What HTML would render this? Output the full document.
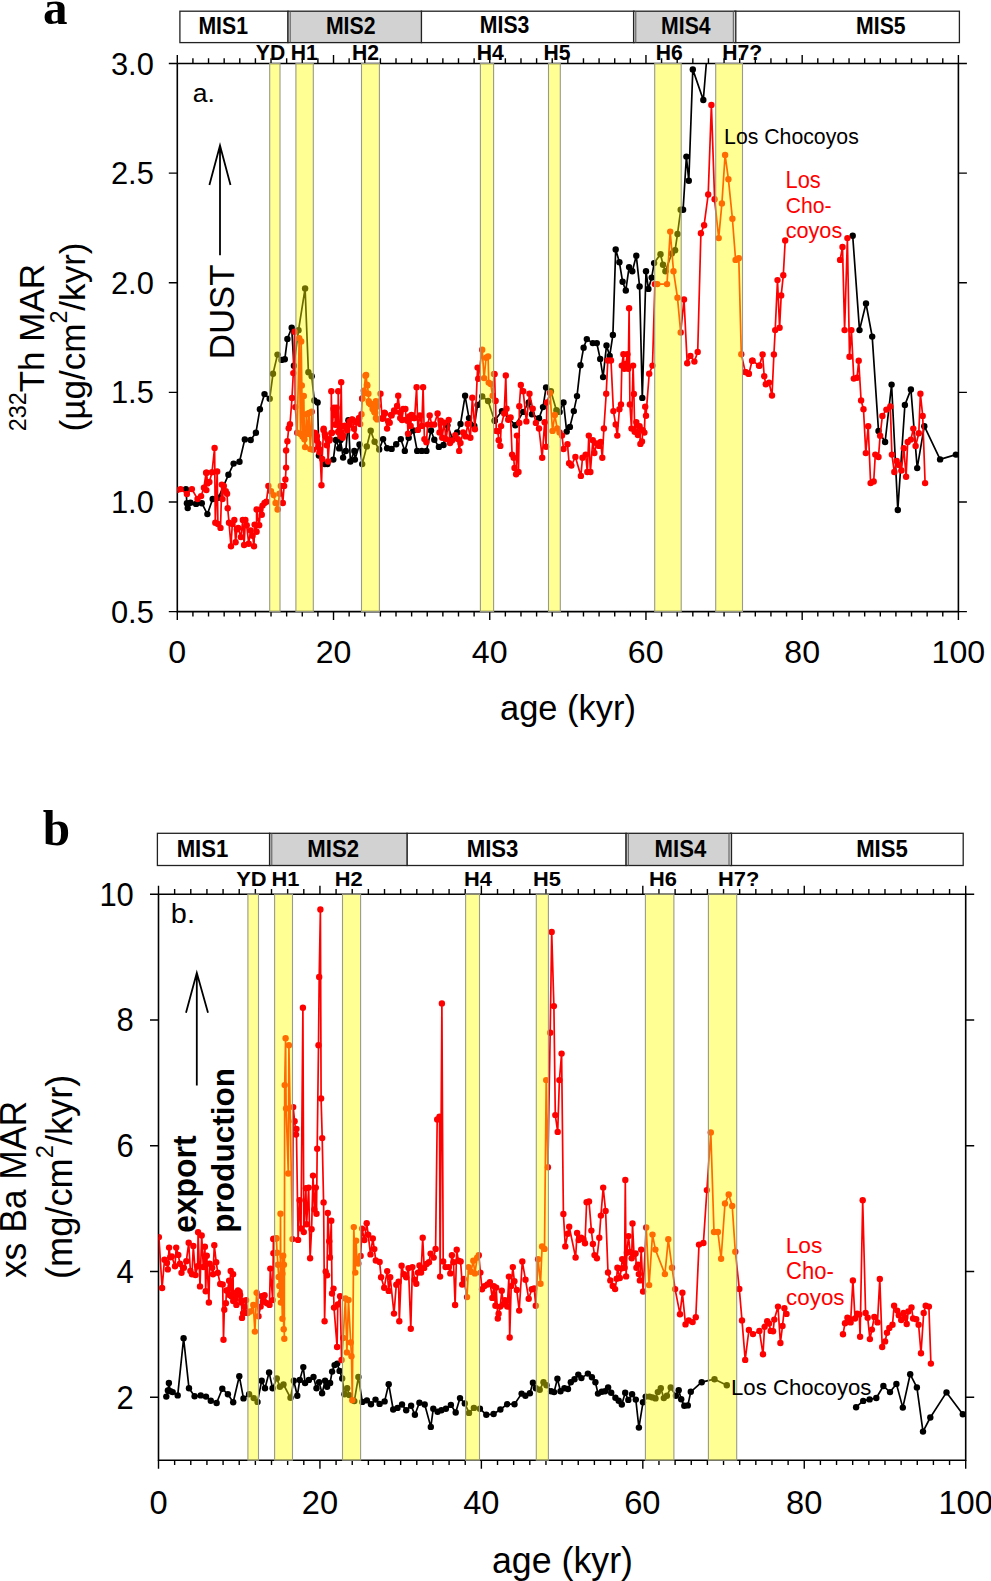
<!DOCTYPE html>
<html><head><meta charset="utf-8"><style>
html,body{margin:0;padding:0;background:#fff;}
body{width:991px;height:1581px;overflow:hidden;}
svg{display:block;}
text{font-family:"Liberation Sans",sans-serif;}
.serif{font-family:"Liberation Serif",serif;}
</style></head><body>
<svg width="991" height="1581" viewBox="0 0 991 1581">
<rect width="991" height="1581" fill="#fff"/>
<rect x="179.9" y="11.2" width="108.1" height="31.400000000000002" fill="#fff" stroke="#222" stroke-width="1.3"/>
<rect x="421.4" y="11.2" width="212.60000000000002" height="31.400000000000002" fill="#fff" stroke="#222" stroke-width="1.3"/>
<rect x="734.8" y="11.2" width="224.60000000000002" height="31.400000000000002" fill="#fff" stroke="#222" stroke-width="1.3"/>
<rect x="288" y="11.2" width="133.39999999999998" height="31.400000000000002" fill="#d2d2d2" stroke="#222" stroke-width="1.3"/>
<path d="M290.2,11.2V42.6" stroke="#555" stroke-width="1"/>
<rect x="633.6" y="11.2" width="102.19999999999993" height="31.400000000000002" fill="#d2d2d2" stroke="#222" stroke-width="1.3"/>
<path d="M635.8000000000001,11.2V42.6M733.3,11.2V42.6" stroke="#555" stroke-width="1"/>
<rect x="157.4" y="833.3" width="112.20000000000002" height="32.200000000000045" fill="#fff" stroke="#222" stroke-width="1.3"/>
<rect x="407" y="833.3" width="219.10000000000002" height="32.200000000000045" fill="#fff" stroke="#222" stroke-width="1.3"/>
<rect x="730.5" y="833.3" width="232.70000000000005" height="32.200000000000045" fill="#fff" stroke="#222" stroke-width="1.3"/>
<rect x="269.6" y="833.3" width="137.39999999999998" height="32.200000000000045" fill="#d2d2d2" stroke="#222" stroke-width="1.3"/>
<path d="M271.8,833.3V865.5" stroke="#555" stroke-width="1"/>
<rect x="626.1" y="833.3" width="105.39999999999998" height="32.200000000000045" fill="#d2d2d2" stroke="#222" stroke-width="1.3"/>
<path d="M628.3000000000001,833.3V865.5M729.0,833.3V865.5" stroke="#555" stroke-width="1"/>
<path d="M177.3,63.5V611.6H958.4V63.5H177.3" fill="none" stroke="#000" stroke-width="1.6"/>
<path d="M177.30,63.5v-8.5M177.30,611.6v8.5M192.92,63.5v-5.2M192.92,611.6v4.8M208.54,63.5v-5.2M208.54,611.6v4.8M224.17,63.5v-5.2M224.17,611.6v4.8M239.79,63.5v-5.2M239.79,611.6v4.8M255.41,63.5v-5.2M255.41,611.6v4.8M271.03,63.5v-5.2M271.03,611.6v4.8M286.65,63.5v-5.2M286.65,611.6v4.8M302.28,63.5v-5.2M302.28,611.6v4.8M317.90,63.5v-5.2M317.90,611.6v4.8M333.52,63.5v-8.5M333.52,611.6v8.5M349.14,63.5v-5.2M349.14,611.6v4.8M364.76,63.5v-5.2M364.76,611.6v4.8M380.39,63.5v-5.2M380.39,611.6v4.8M396.01,63.5v-5.2M396.01,611.6v4.8M411.63,63.5v-5.2M411.63,611.6v4.8M427.25,63.5v-5.2M427.25,611.6v4.8M442.87,63.5v-5.2M442.87,611.6v4.8M458.50,63.5v-5.2M458.50,611.6v4.8M474.12,63.5v-5.2M474.12,611.6v4.8M489.74,63.5v-8.5M489.74,611.6v8.5M505.36,63.5v-5.2M505.36,611.6v4.8M520.98,63.5v-5.2M520.98,611.6v4.8M536.61,63.5v-5.2M536.61,611.6v4.8M552.23,63.5v-5.2M552.23,611.6v4.8M567.85,63.5v-5.2M567.85,611.6v4.8M583.47,63.5v-5.2M583.47,611.6v4.8M599.09,63.5v-5.2M599.09,611.6v4.8M614.72,63.5v-5.2M614.72,611.6v4.8M630.34,63.5v-5.2M630.34,611.6v4.8M645.96,63.5v-8.5M645.96,611.6v8.5M661.58,63.5v-5.2M661.58,611.6v4.8M677.20,63.5v-5.2M677.20,611.6v4.8M692.83,63.5v-5.2M692.83,611.6v4.8M708.45,63.5v-5.2M708.45,611.6v4.8M724.07,63.5v-5.2M724.07,611.6v4.8M739.69,63.5v-5.2M739.69,611.6v4.8M755.31,63.5v-5.2M755.31,611.6v4.8M770.94,63.5v-5.2M770.94,611.6v4.8M786.56,63.5v-5.2M786.56,611.6v4.8M802.18,63.5v-8.5M802.18,611.6v8.5M817.80,63.5v-5.2M817.80,611.6v4.8M833.42,63.5v-5.2M833.42,611.6v4.8M849.05,63.5v-5.2M849.05,611.6v4.8M864.67,63.5v-5.2M864.67,611.6v4.8M880.29,63.5v-5.2M880.29,611.6v4.8M895.91,63.5v-5.2M895.91,611.6v4.8M911.53,63.5v-5.2M911.53,611.6v4.8M927.16,63.5v-5.2M927.16,611.6v4.8M942.78,63.5v-5.2M942.78,611.6v4.8M958.40,63.5v-8.5M958.40,611.6v8.5M177.3,611.60h-8.5M958.4,611.60h8.5M177.3,501.98h-8.5M958.4,501.98h8.5M177.3,392.36h-8.5M958.4,392.36h8.5M177.3,282.74h-8.5M958.4,282.74h8.5M177.3,173.12h-8.5M958.4,173.12h8.5M177.3,63.50h-8.5M958.4,63.50h8.5" fill="none" stroke="#000" stroke-width="1.4"/>
<path d="M158.5,894.2V1460.2H965.7V894.2H158.5" fill="none" stroke="#000" stroke-width="1.6"/>
<path d="M158.50,894.2v-8.5M158.50,1460.2v8.5M174.64,894.2v-5.2M174.64,1460.2v4.8M190.79,894.2v-5.2M190.79,1460.2v4.8M206.93,894.2v-5.2M206.93,1460.2v4.8M223.08,894.2v-5.2M223.08,1460.2v4.8M239.22,894.2v-5.2M239.22,1460.2v4.8M255.36,894.2v-5.2M255.36,1460.2v4.8M271.51,894.2v-5.2M271.51,1460.2v4.8M287.65,894.2v-5.2M287.65,1460.2v4.8M303.80,894.2v-5.2M303.80,1460.2v4.8M319.94,894.2v-8.5M319.94,1460.2v8.5M336.08,894.2v-5.2M336.08,1460.2v4.8M352.23,894.2v-5.2M352.23,1460.2v4.8M368.37,894.2v-5.2M368.37,1460.2v4.8M384.52,894.2v-5.2M384.52,1460.2v4.8M400.66,894.2v-5.2M400.66,1460.2v4.8M416.80,894.2v-5.2M416.80,1460.2v4.8M432.95,894.2v-5.2M432.95,1460.2v4.8M449.09,894.2v-5.2M449.09,1460.2v4.8M465.24,894.2v-5.2M465.24,1460.2v4.8M481.38,894.2v-8.5M481.38,1460.2v8.5M497.52,894.2v-5.2M497.52,1460.2v4.8M513.67,894.2v-5.2M513.67,1460.2v4.8M529.81,894.2v-5.2M529.81,1460.2v4.8M545.96,894.2v-5.2M545.96,1460.2v4.8M562.10,894.2v-5.2M562.10,1460.2v4.8M578.24,894.2v-5.2M578.24,1460.2v4.8M594.39,894.2v-5.2M594.39,1460.2v4.8M610.53,894.2v-5.2M610.53,1460.2v4.8M626.68,894.2v-5.2M626.68,1460.2v4.8M642.82,894.2v-8.5M642.82,1460.2v8.5M658.96,894.2v-5.2M658.96,1460.2v4.8M675.11,894.2v-5.2M675.11,1460.2v4.8M691.25,894.2v-5.2M691.25,1460.2v4.8M707.40,894.2v-5.2M707.40,1460.2v4.8M723.54,894.2v-5.2M723.54,1460.2v4.8M739.68,894.2v-5.2M739.68,1460.2v4.8M755.83,894.2v-5.2M755.83,1460.2v4.8M771.97,894.2v-5.2M771.97,1460.2v4.8M788.12,894.2v-5.2M788.12,1460.2v4.8M804.26,894.2v-8.5M804.26,1460.2v8.5M820.40,894.2v-5.2M820.40,1460.2v4.8M836.55,894.2v-5.2M836.55,1460.2v4.8M852.69,894.2v-5.2M852.69,1460.2v4.8M868.84,894.2v-5.2M868.84,1460.2v4.8M884.98,894.2v-5.2M884.98,1460.2v4.8M901.12,894.2v-5.2M901.12,1460.2v4.8M917.27,894.2v-5.2M917.27,1460.2v4.8M933.41,894.2v-5.2M933.41,1460.2v4.8M949.56,894.2v-5.2M949.56,1460.2v4.8M965.70,894.2v-8.5M965.70,1460.2v8.5M158.5,1397.31h-8.5M965.7,1397.31h8.5M158.5,1271.53h-8.5M965.7,1271.53h8.5M158.5,1145.76h-8.5M965.7,1145.76h8.5M158.5,1019.98h-8.5M965.7,1019.98h8.5M158.5,894.20h-8.5M965.7,894.20h8.5" fill="none" stroke="#000" stroke-width="1.4"/>
<path d="M220,255.2V145.5M209.4,185L220,145.5L230.5,185" fill="none" stroke="#000" stroke-width="1.8"/>
<path d="M196.8,1085.6V972.8M186,1012.8L196.8,972.8L208,1012.8" fill="none" stroke="#000" stroke-width="1.8"/>
<defs><clipPath id="ct"><rect x="177.3" y="63.5" width="781.0999999999999" height="548.1"/></clipPath><clipPath id="cb"><rect x="158.5" y="894.2" width="807.2" height="566.0"/></clipPath></defs>
<g clip-path="url(#ct)"><path d="M185.9,489.1L186.9,503.2L187.7,508.1L190.5,502.8L196.1,503.9L201.8,503.2L207.4,514.1L212.7,499.0L218.5,497.7L228.4,474.8L233.6,463.6L239.5,461.7L244.8,439.4L250.7,440.0L255.9,432.8L259.9,409.2L264.5,394.1L269.7,398.7L273.0,373.8L277.5,354.6L281.5,359.9L284.8,359.2L287.4,338.9L291.7,327.7L293.9,365.8L298.5,330.3L305.1,288.4L308.4,372.3L311.7,376.3L314.3,400.5L317.6,402.5L318.9,455.6L324.8,464.1L327.4,464.1L333.3,459.6L335.9,439.9L339.2,448.4L340.5,439.9L343.1,457.6L345.8,451.0L348.4,420.2L350.4,461.5L354.3,451.0L354.9,459.6L359.5,444.5L362.2,464.1L366.8,446.4L370.7,430.7L374.6,441.8L379.2,449.5L383.1,439.1L387.1,448.2L391.6,448.9L396.2,444.3L400.8,439.1L404.8,450.9L408.7,437.7L413.3,430.5L417.2,450.9L421.8,450.9L426.4,450.9L431.0,430.5L434.3,439.7L438.9,446.9L443.5,445.0L447.4,425.3L452.6,439.1L457.2,432.5L460.5,424.0L465.1,395.8L469.0,418.1L474.3,425.9L477.6,404.9L482.2,396.4L488.1,401.0L494.6,420.7L494.7,420.6L501.9,411.1L509.0,418.2L515.3,425.3L523.2,411.9L528.7,402.4L531.9,414.2L539.0,418.2L543.0,407.1L546.1,387.4L550.9,391.3L556.4,410.3L559.6,411.9L563.5,402.4L566.7,431.6L569.9,426.9L573.8,411.1L577.0,396.1L580.5,365.2L583.6,347.8L586.8,339.1L592.8,343.1L596.8,343.1L600.2,358.9L603.1,377.1L606.5,345.4L609.7,355.9L612.9,334.9L615.7,249.4L619.4,262.3L622.6,281.7L625.8,290.5L629.1,267.1L632.3,271.2L636.3,255.8L639.6,286.5L642.3,397.9L646.0,271.2L648.4,288.9L651.7,277.6L654.1,263.1L660.5,254.2L663.0,264.7L665.4,271.2L671.8,253.4L675.1,250.2L677.5,234.0L680.7,209.8L683.1,209.8L686.4,156.6L688.8,180.8L692.8,69.4L703.3,100.0L706.9,56.5" fill="none" stroke="#000" stroke-width="1.7" stroke-linejoin="round"/>
<g fill="#000"><circle cx="185.9" cy="489.1" r="3.2"/><circle cx="186.9" cy="503.2" r="3.2"/><circle cx="187.7" cy="508.1" r="3.2"/><circle cx="190.5" cy="502.8" r="3.2"/><circle cx="196.1" cy="503.9" r="3.2"/><circle cx="201.8" cy="503.2" r="3.2"/><circle cx="207.4" cy="514.1" r="3.2"/><circle cx="212.7" cy="499.0" r="3.2"/><circle cx="218.5" cy="497.7" r="3.2"/><circle cx="228.4" cy="474.8" r="3.2"/><circle cx="233.6" cy="463.6" r="3.2"/><circle cx="239.5" cy="461.7" r="3.2"/><circle cx="244.8" cy="439.4" r="3.2"/><circle cx="250.7" cy="440.0" r="3.2"/><circle cx="255.9" cy="432.8" r="3.2"/><circle cx="259.9" cy="409.2" r="3.2"/><circle cx="264.5" cy="394.1" r="3.2"/><circle cx="269.7" cy="398.7" r="3.2"/><circle cx="273.0" cy="373.8" r="3.2"/><circle cx="277.5" cy="354.6" r="3.2"/><circle cx="281.5" cy="359.9" r="3.2"/><circle cx="284.8" cy="359.2" r="3.2"/><circle cx="287.4" cy="338.9" r="3.2"/><circle cx="291.7" cy="327.7" r="3.2"/><circle cx="293.9" cy="365.8" r="3.2"/><circle cx="298.5" cy="330.3" r="3.2"/><circle cx="305.1" cy="288.4" r="3.2"/><circle cx="308.4" cy="372.3" r="3.2"/><circle cx="311.7" cy="376.3" r="3.2"/><circle cx="314.3" cy="400.5" r="3.2"/><circle cx="317.6" cy="402.5" r="3.2"/><circle cx="318.9" cy="455.6" r="3.2"/><circle cx="324.8" cy="464.1" r="3.2"/><circle cx="327.4" cy="464.1" r="3.2"/><circle cx="333.3" cy="459.6" r="3.2"/><circle cx="335.9" cy="439.9" r="3.2"/><circle cx="339.2" cy="448.4" r="3.2"/><circle cx="340.5" cy="439.9" r="3.2"/><circle cx="343.1" cy="457.6" r="3.2"/><circle cx="345.8" cy="451.0" r="3.2"/><circle cx="348.4" cy="420.2" r="3.2"/><circle cx="350.4" cy="461.5" r="3.2"/><circle cx="354.3" cy="451.0" r="3.2"/><circle cx="354.9" cy="459.6" r="3.2"/><circle cx="359.5" cy="444.5" r="3.2"/><circle cx="362.2" cy="464.1" r="3.2"/><circle cx="366.8" cy="446.4" r="3.2"/><circle cx="370.7" cy="430.7" r="3.2"/><circle cx="374.6" cy="441.8" r="3.2"/><circle cx="379.2" cy="449.5" r="3.2"/><circle cx="383.1" cy="439.1" r="3.2"/><circle cx="387.1" cy="448.2" r="3.2"/><circle cx="391.6" cy="448.9" r="3.2"/><circle cx="396.2" cy="444.3" r="3.2"/><circle cx="400.8" cy="439.1" r="3.2"/><circle cx="404.8" cy="450.9" r="3.2"/><circle cx="408.7" cy="437.7" r="3.2"/><circle cx="413.3" cy="430.5" r="3.2"/><circle cx="417.2" cy="450.9" r="3.2"/><circle cx="421.8" cy="450.9" r="3.2"/><circle cx="426.4" cy="450.9" r="3.2"/><circle cx="431.0" cy="430.5" r="3.2"/><circle cx="434.3" cy="439.7" r="3.2"/><circle cx="438.9" cy="446.9" r="3.2"/><circle cx="443.5" cy="445.0" r="3.2"/><circle cx="447.4" cy="425.3" r="3.2"/><circle cx="452.6" cy="439.1" r="3.2"/><circle cx="457.2" cy="432.5" r="3.2"/><circle cx="460.5" cy="424.0" r="3.2"/><circle cx="465.1" cy="395.8" r="3.2"/><circle cx="469.0" cy="418.1" r="3.2"/><circle cx="474.3" cy="425.9" r="3.2"/><circle cx="477.6" cy="404.9" r="3.2"/><circle cx="482.2" cy="396.4" r="3.2"/><circle cx="488.1" cy="401.0" r="3.2"/><circle cx="494.6" cy="420.7" r="3.2"/><circle cx="494.7" cy="420.6" r="3.2"/><circle cx="501.9" cy="411.1" r="3.2"/><circle cx="509.0" cy="418.2" r="3.2"/><circle cx="515.3" cy="425.3" r="3.2"/><circle cx="523.2" cy="411.9" r="3.2"/><circle cx="528.7" cy="402.4" r="3.2"/><circle cx="531.9" cy="414.2" r="3.2"/><circle cx="539.0" cy="418.2" r="3.2"/><circle cx="543.0" cy="407.1" r="3.2"/><circle cx="546.1" cy="387.4" r="3.2"/><circle cx="550.9" cy="391.3" r="3.2"/><circle cx="556.4" cy="410.3" r="3.2"/><circle cx="559.6" cy="411.9" r="3.2"/><circle cx="563.5" cy="402.4" r="3.2"/><circle cx="566.7" cy="431.6" r="3.2"/><circle cx="569.9" cy="426.9" r="3.2"/><circle cx="573.8" cy="411.1" r="3.2"/><circle cx="577.0" cy="396.1" r="3.2"/><circle cx="580.5" cy="365.2" r="3.2"/><circle cx="583.6" cy="347.8" r="3.2"/><circle cx="586.8" cy="339.1" r="3.2"/><circle cx="592.8" cy="343.1" r="3.2"/><circle cx="596.8" cy="343.1" r="3.2"/><circle cx="600.2" cy="358.9" r="3.2"/><circle cx="603.1" cy="377.1" r="3.2"/><circle cx="606.5" cy="345.4" r="3.2"/><circle cx="609.7" cy="355.9" r="3.2"/><circle cx="612.9" cy="334.9" r="3.2"/><circle cx="615.7" cy="249.4" r="3.2"/><circle cx="619.4" cy="262.3" r="3.2"/><circle cx="622.6" cy="281.7" r="3.2"/><circle cx="625.8" cy="290.5" r="3.2"/><circle cx="629.1" cy="267.1" r="3.2"/><circle cx="632.3" cy="271.2" r="3.2"/><circle cx="636.3" cy="255.8" r="3.2"/><circle cx="639.6" cy="286.5" r="3.2"/><circle cx="642.3" cy="397.9" r="3.2"/><circle cx="646.0" cy="271.2" r="3.2"/><circle cx="648.4" cy="288.9" r="3.2"/><circle cx="651.7" cy="277.6" r="3.2"/><circle cx="654.1" cy="263.1" r="3.2"/><circle cx="660.5" cy="254.2" r="3.2"/><circle cx="663.0" cy="264.7" r="3.2"/><circle cx="665.4" cy="271.2" r="3.2"/><circle cx="671.8" cy="253.4" r="3.2"/><circle cx="675.1" cy="250.2" r="3.2"/><circle cx="677.5" cy="234.0" r="3.2"/><circle cx="680.7" cy="209.8" r="3.2"/><circle cx="683.1" cy="209.8" r="3.2"/><circle cx="686.4" cy="156.6" r="3.2"/><circle cx="688.8" cy="180.8" r="3.2"/><circle cx="692.8" cy="69.4" r="3.2"/><circle cx="703.3" cy="100.0" r="3.2"/><circle cx="706.9" cy="56.5" r="3.2"/></g></g>
<g clip-path="url(#ct)"><path d="M852.7,235.7L859.5,330.1L866.0,303.5L872.2,336.6L878.5,430.9L885.1,442.0L891.6,384.6L897.8,510.0L904.9,404.9L910.9,389.4L917.2,468.1L924.3,426.2L940.1,459.4L955.9,454.6" fill="none" stroke="#000" stroke-width="1.7" stroke-linejoin="round"/>
<g fill="#000"><circle cx="852.7" cy="235.7" r="3.2"/><circle cx="859.5" cy="330.1" r="3.2"/><circle cx="866.0" cy="303.5" r="3.2"/><circle cx="872.2" cy="336.6" r="3.2"/><circle cx="878.5" cy="430.9" r="3.2"/><circle cx="885.1" cy="442.0" r="3.2"/><circle cx="891.6" cy="384.6" r="3.2"/><circle cx="897.8" cy="510.0" r="3.2"/><circle cx="904.9" cy="404.9" r="3.2"/><circle cx="910.9" cy="389.4" r="3.2"/><circle cx="917.2" cy="468.1" r="3.2"/><circle cx="924.3" cy="426.2" r="3.2"/><circle cx="940.1" cy="459.4" r="3.2"/><circle cx="955.9" cy="454.6" r="3.2"/></g></g>
<g clip-path="url(#ct)"><path d="M177.1,490.1L180.6,489.1L186.9,494.0L191.9,489.1L197.5,499.0L201.1,496.1L203.9,487.7L206.1,472.8L206.4,490.1L206.7,472.8L207.4,483.4L209.4,482.0L212.0,472.2L214.6,447.9L215.3,522.7L217.2,471.5L217.9,524.0L220.5,527.9L221.8,484.6L222.5,499.1L223.8,485.9L225.8,491.2L227.1,493.8L227.7,508.2L229.0,522.7L231.0,546.3L232.3,524.0L234.3,520.0L235.6,542.3L236.9,529.2L238.2,527.9L240.8,537.1L242.8,520.0L244.1,545.0L245.4,520.0L246.7,525.3L248.7,543.7L250.7,530.5L252.6,535.8L254.0,546.3L254.6,524.6L256.6,531.8L256.6,509.5L259.2,525.3L260.5,509.5L261.8,514.8L262.5,505.6L264.5,503.0L266.4,501.7L268.4,485.9L271.0,491.2L273.6,495.1L275.6,503.0L277.6,509.5L279.5,493.8L280.8,485.9L282.8,503.0L284.1,485.9L285.4,479.4L286.1,467.6L286.1,450.5L287.4,441.3L288.7,428.2L290.0,424.3L292.0,398.0L293.3,373.1L294.6,331.7L295.3,407.1L297.2,432.7L299.2,338.2L300.5,434.0L301.2,341.5L301.8,385.4L302.5,436.6L303.8,395.9L304.4,439.2L305.1,447.1L306.4,414.3L307.7,434.0L309.0,413.0L310.3,449.1L311.7,411.7L313.0,449.7L314.3,432.7L315.4,433.2L315.6,436.6L316.9,440.5L316.9,436.2L318.2,447.1L318.4,443.8L319.5,452.3L319.9,449.8L321.5,485.3L322.2,458.9L323.5,430.0L323.7,428.7L324.8,434.0L325.2,436.2L326.8,445.3L327.4,439.2L328.1,461.5L329.4,440.5L329.8,439.2L331.3,433.2L331.3,391.3L332.0,432.7L333.6,409.0L334.0,407.7L335.1,415.0L335.3,424.8L336.6,407.7L336.6,424.1L338.1,431.7L338.2,391.3L339.2,432.7L340.4,436.2L341.2,382.2L341.8,426.1L342.7,437.7L343.1,435.3L344.5,426.1L344.9,425.6L347.1,428.7L347.2,430.2L349.5,421.1L349.7,424.8L351.7,419.6L352.3,419.5L354.0,428.7L354.9,436.6L355.5,436.2L356.3,422.2L357.0,421.1L358.9,418.2L359.3,418.1L360.2,424.1L361.5,414.3L362.2,398.6L362.3,398.4L363.8,390.8L364.1,393.3L365.4,375.7L366.1,374.9L366.9,384.8L367.4,385.4L368.4,393.8L368.7,401.2L369.1,402.9L370.7,404.4L370.7,403.8L372.6,404.9L372.7,409.1L372.9,409.0L374.4,412.0L374.6,411.7L375.2,412.8L375.9,401.2L375.9,418.1L377.2,419.4L377.2,406.4L377.5,405.9L380.5,393.8L382.0,418.1L382.5,418.7L384.4,412.8L385.0,413.5L387.1,428.6L388.1,421.1L389.7,422.7L391.1,415.0L391.6,415.4L394.1,410.5L394.9,411.5L397.1,405.9L398.2,395.8L400.2,418.1L400.2,412.8L402.1,420.0L403.2,409.0L405.4,408.9L406.2,419.6L407.4,420.7L408.0,433.8L409.2,416.5L410.7,425.9L411.5,415.0L412.0,415.4L413.8,418.1L414.6,418.1L416.6,387.2L417.9,429.9L419.8,415.4L421.8,425.9L423.1,387.2L424.4,439.1L426.4,442.3L427.7,424.6L429.7,415.4L431.7,424.6L434.3,424.6L437.6,413.5L439.5,432.5L440.8,420.7L442.2,437.7L444.1,422.7L446.1,439.1L448.7,420.0L450.0,443.0L452.0,440.4L455.3,435.1L457.9,439.1L459.2,450.9L460.5,443.0L463.1,432.5L465.8,436.4L467.7,424.0L470.4,437.7L472.3,397.7L474.9,429.2L477.6,367.6L478.2,378.7L482.2,349.8L484.1,378.1L486.1,357.7L488.1,356.4L488.7,382.6L490.7,384.0L492.7,395.8L494.0,373.9L494.6,374.1L495.3,401.0L495.5,400.8L496.3,430.9L497.9,431.2L498.7,440.3L500.3,445.9L501.1,426.1L504.2,413.5L505.8,375.5L506.6,408.7L508.2,419.8L510.6,417.4L512.1,454.6L513.7,457.7L514.5,468.0L516.1,474.3L516.9,435.6L518.5,472.0L519.3,422.9L519.3,406.3L520.8,385.0L523.2,391.3L526.4,421.4L529.5,393.7L532.7,408.7L535.9,422.9L539.0,428.5L542.2,457.7L544.6,422.2L546.1,446.7L546.9,402.4L550.1,392.9L552.5,430.9L554.8,415.0L557.2,428.5L559.6,432.4L562.0,435.6L563.5,449.0L567.5,444.3L569.1,463.3L571.4,465.6L575.4,456.9L580.9,475.9L582.5,457.7L585.7,454.6L587.3,472.0L588.8,435.6L590.4,472.0L592.8,440.3L594.4,453.0L596.8,443.5L599.1,445.9L600.7,441.9L602.3,457.7L603.9,428.5L606.2,393.7L607.8,360.5L611.0,360.5L613.4,411.1L615.7,424.5L617.3,435.6L619.4,409.2L621.0,404.4L621.8,365.6L623.4,354.3L624.2,368.8L625.8,364.0L627.4,354.3L628.3,368.8L629.1,308.3L629.9,404.4L631.5,428.6L633.1,365.6L633.9,393.9L634.7,431.8L636.3,422.1L637.9,435.0L639.6,426.2L640.4,443.9L642.0,441.5L642.8,430.2L644.4,432.6L645.2,406.8L646.0,415.7L649.2,373.7L652.5,365.6L654.9,284.1L657.3,284.1L667.0,284.1L670.2,231.6L673.5,271.2L677.5,297.8L680.7,332.5L684.0,299.4L687.2,363.2L690.4,355.9L694.4,361.6L697.7,351.9L700.9,233.2L704.1,225.2L708.2,194.5L711.4,104.9L714.6,199.3L718.7,238.1L721.9,203.4L725.1,154.9L728.4,179.2L732.4,218.7L735.6,259.9L738.8,258.3L741.3,354.3L745.3,372.1L745.7,372.1L748.5,373.7L748.9,373.7L752.1,360.8L752.6,360.8L759.0,365.6L759.4,365.7L762.6,354.4L764.2,376.2L765.8,384.2L769.1,382.6L772.0,395.5L773.9,354.4L775.2,330.1L777.5,280.1L779.6,327.7L781.2,295.4L783.3,275.3L785.2,240.5" fill="none" stroke="#ff0000" stroke-width="1.7" stroke-linejoin="round"/>
<g fill="#ff0000"><circle cx="177.1" cy="490.1" r="3.2"/><circle cx="180.6" cy="489.1" r="3.2"/><circle cx="186.9" cy="494.0" r="3.2"/><circle cx="191.9" cy="489.1" r="3.2"/><circle cx="197.5" cy="499.0" r="3.2"/><circle cx="201.1" cy="496.1" r="3.2"/><circle cx="203.9" cy="487.7" r="3.2"/><circle cx="206.1" cy="472.8" r="3.2"/><circle cx="206.4" cy="490.1" r="3.2"/><circle cx="206.7" cy="472.8" r="3.2"/><circle cx="207.4" cy="483.4" r="3.2"/><circle cx="209.4" cy="482.0" r="3.2"/><circle cx="212.0" cy="472.2" r="3.2"/><circle cx="214.6" cy="447.9" r="3.2"/><circle cx="215.3" cy="522.7" r="3.2"/><circle cx="217.2" cy="471.5" r="3.2"/><circle cx="217.9" cy="524.0" r="3.2"/><circle cx="220.5" cy="527.9" r="3.2"/><circle cx="221.8" cy="484.6" r="3.2"/><circle cx="222.5" cy="499.1" r="3.2"/><circle cx="223.8" cy="485.9" r="3.2"/><circle cx="225.8" cy="491.2" r="3.2"/><circle cx="227.1" cy="493.8" r="3.2"/><circle cx="227.7" cy="508.2" r="3.2"/><circle cx="229.0" cy="522.7" r="3.2"/><circle cx="231.0" cy="546.3" r="3.2"/><circle cx="232.3" cy="524.0" r="3.2"/><circle cx="234.3" cy="520.0" r="3.2"/><circle cx="235.6" cy="542.3" r="3.2"/><circle cx="236.9" cy="529.2" r="3.2"/><circle cx="238.2" cy="527.9" r="3.2"/><circle cx="240.8" cy="537.1" r="3.2"/><circle cx="242.8" cy="520.0" r="3.2"/><circle cx="244.1" cy="545.0" r="3.2"/><circle cx="245.4" cy="520.0" r="3.2"/><circle cx="246.7" cy="525.3" r="3.2"/><circle cx="248.7" cy="543.7" r="3.2"/><circle cx="250.7" cy="530.5" r="3.2"/><circle cx="252.6" cy="535.8" r="3.2"/><circle cx="254.0" cy="546.3" r="3.2"/><circle cx="254.6" cy="524.6" r="3.2"/><circle cx="256.6" cy="531.8" r="3.2"/><circle cx="256.6" cy="509.5" r="3.2"/><circle cx="259.2" cy="525.3" r="3.2"/><circle cx="260.5" cy="509.5" r="3.2"/><circle cx="261.8" cy="514.8" r="3.2"/><circle cx="262.5" cy="505.6" r="3.2"/><circle cx="264.5" cy="503.0" r="3.2"/><circle cx="266.4" cy="501.7" r="3.2"/><circle cx="268.4" cy="485.9" r="3.2"/><circle cx="271.0" cy="491.2" r="3.2"/><circle cx="273.6" cy="495.1" r="3.2"/><circle cx="275.6" cy="503.0" r="3.2"/><circle cx="277.6" cy="509.5" r="3.2"/><circle cx="279.5" cy="493.8" r="3.2"/><circle cx="280.8" cy="485.9" r="3.2"/><circle cx="282.8" cy="503.0" r="3.2"/><circle cx="284.1" cy="485.9" r="3.2"/><circle cx="285.4" cy="479.4" r="3.2"/><circle cx="286.1" cy="467.6" r="3.2"/><circle cx="286.1" cy="450.5" r="3.2"/><circle cx="287.4" cy="441.3" r="3.2"/><circle cx="288.7" cy="428.2" r="3.2"/><circle cx="290.0" cy="424.3" r="3.2"/><circle cx="292.0" cy="398.0" r="3.2"/><circle cx="293.3" cy="373.1" r="3.2"/><circle cx="294.6" cy="331.7" r="3.2"/><circle cx="295.3" cy="407.1" r="3.2"/><circle cx="297.2" cy="432.7" r="3.2"/><circle cx="299.2" cy="338.2" r="3.2"/><circle cx="300.5" cy="434.0" r="3.2"/><circle cx="301.2" cy="341.5" r="3.2"/><circle cx="301.8" cy="385.4" r="3.2"/><circle cx="302.5" cy="436.6" r="3.2"/><circle cx="303.8" cy="395.9" r="3.2"/><circle cx="304.4" cy="439.2" r="3.2"/><circle cx="305.1" cy="447.1" r="3.2"/><circle cx="306.4" cy="414.3" r="3.2"/><circle cx="307.7" cy="434.0" r="3.2"/><circle cx="309.0" cy="413.0" r="3.2"/><circle cx="310.3" cy="449.1" r="3.2"/><circle cx="311.7" cy="411.7" r="3.2"/><circle cx="313.0" cy="449.7" r="3.2"/><circle cx="314.3" cy="432.7" r="3.2"/><circle cx="315.4" cy="433.2" r="3.2"/><circle cx="315.6" cy="436.6" r="3.2"/><circle cx="316.9" cy="440.5" r="3.2"/><circle cx="316.9" cy="436.2" r="3.2"/><circle cx="318.2" cy="447.1" r="3.2"/><circle cx="318.4" cy="443.8" r="3.2"/><circle cx="319.5" cy="452.3" r="3.2"/><circle cx="319.9" cy="449.8" r="3.2"/><circle cx="321.5" cy="485.3" r="3.2"/><circle cx="322.2" cy="458.9" r="3.2"/><circle cx="323.5" cy="430.0" r="3.2"/><circle cx="323.7" cy="428.7" r="3.2"/><circle cx="324.8" cy="434.0" r="3.2"/><circle cx="325.2" cy="436.2" r="3.2"/><circle cx="326.8" cy="445.3" r="3.2"/><circle cx="327.4" cy="439.2" r="3.2"/><circle cx="328.1" cy="461.5" r="3.2"/><circle cx="329.4" cy="440.5" r="3.2"/><circle cx="329.8" cy="439.2" r="3.2"/><circle cx="331.3" cy="433.2" r="3.2"/><circle cx="331.3" cy="391.3" r="3.2"/><circle cx="332.0" cy="432.7" r="3.2"/><circle cx="333.6" cy="409.0" r="3.2"/><circle cx="334.0" cy="407.7" r="3.2"/><circle cx="335.1" cy="415.0" r="3.2"/><circle cx="335.3" cy="424.8" r="3.2"/><circle cx="336.6" cy="407.7" r="3.2"/><circle cx="336.6" cy="424.1" r="3.2"/><circle cx="338.1" cy="431.7" r="3.2"/><circle cx="338.2" cy="391.3" r="3.2"/><circle cx="339.2" cy="432.7" r="3.2"/><circle cx="340.4" cy="436.2" r="3.2"/><circle cx="341.2" cy="382.2" r="3.2"/><circle cx="341.8" cy="426.1" r="3.2"/><circle cx="342.7" cy="437.7" r="3.2"/><circle cx="343.1" cy="435.3" r="3.2"/><circle cx="344.5" cy="426.1" r="3.2"/><circle cx="344.9" cy="425.6" r="3.2"/><circle cx="347.1" cy="428.7" r="3.2"/><circle cx="347.2" cy="430.2" r="3.2"/><circle cx="349.5" cy="421.1" r="3.2"/><circle cx="349.7" cy="424.8" r="3.2"/><circle cx="351.7" cy="419.6" r="3.2"/><circle cx="352.3" cy="419.5" r="3.2"/><circle cx="354.0" cy="428.7" r="3.2"/><circle cx="354.9" cy="436.6" r="3.2"/><circle cx="355.5" cy="436.2" r="3.2"/><circle cx="356.3" cy="422.2" r="3.2"/><circle cx="357.0" cy="421.1" r="3.2"/><circle cx="358.9" cy="418.2" r="3.2"/><circle cx="359.3" cy="418.1" r="3.2"/><circle cx="360.2" cy="424.1" r="3.2"/><circle cx="361.5" cy="414.3" r="3.2"/><circle cx="362.2" cy="398.6" r="3.2"/><circle cx="362.3" cy="398.4" r="3.2"/><circle cx="363.8" cy="390.8" r="3.2"/><circle cx="364.1" cy="393.3" r="3.2"/><circle cx="365.4" cy="375.7" r="3.2"/><circle cx="366.1" cy="374.9" r="3.2"/><circle cx="366.9" cy="384.8" r="3.2"/><circle cx="367.4" cy="385.4" r="3.2"/><circle cx="368.4" cy="393.8" r="3.2"/><circle cx="368.7" cy="401.2" r="3.2"/><circle cx="369.1" cy="402.9" r="3.2"/><circle cx="370.7" cy="404.4" r="3.2"/><circle cx="370.7" cy="403.8" r="3.2"/><circle cx="372.6" cy="404.9" r="3.2"/><circle cx="372.7" cy="409.1" r="3.2"/><circle cx="372.9" cy="409.0" r="3.2"/><circle cx="374.4" cy="412.0" r="3.2"/><circle cx="374.6" cy="411.7" r="3.2"/><circle cx="375.2" cy="412.8" r="3.2"/><circle cx="375.9" cy="401.2" r="3.2"/><circle cx="375.9" cy="418.1" r="3.2"/><circle cx="377.2" cy="419.4" r="3.2"/><circle cx="377.2" cy="406.4" r="3.2"/><circle cx="377.5" cy="405.9" r="3.2"/><circle cx="380.5" cy="393.8" r="3.2"/><circle cx="382.0" cy="418.1" r="3.2"/><circle cx="382.5" cy="418.7" r="3.2"/><circle cx="384.4" cy="412.8" r="3.2"/><circle cx="385.0" cy="413.5" r="3.2"/><circle cx="387.1" cy="428.6" r="3.2"/><circle cx="388.1" cy="421.1" r="3.2"/><circle cx="389.7" cy="422.7" r="3.2"/><circle cx="391.1" cy="415.0" r="3.2"/><circle cx="391.6" cy="415.4" r="3.2"/><circle cx="394.1" cy="410.5" r="3.2"/><circle cx="394.9" cy="411.5" r="3.2"/><circle cx="397.1" cy="405.9" r="3.2"/><circle cx="398.2" cy="395.8" r="3.2"/><circle cx="400.2" cy="418.1" r="3.2"/><circle cx="400.2" cy="412.8" r="3.2"/><circle cx="402.1" cy="420.0" r="3.2"/><circle cx="403.2" cy="409.0" r="3.2"/><circle cx="405.4" cy="408.9" r="3.2"/><circle cx="406.2" cy="419.6" r="3.2"/><circle cx="407.4" cy="420.7" r="3.2"/><circle cx="408.0" cy="433.8" r="3.2"/><circle cx="409.2" cy="416.5" r="3.2"/><circle cx="410.7" cy="425.9" r="3.2"/><circle cx="411.5" cy="415.0" r="3.2"/><circle cx="412.0" cy="415.4" r="3.2"/><circle cx="413.8" cy="418.1" r="3.2"/><circle cx="414.6" cy="418.1" r="3.2"/><circle cx="416.6" cy="387.2" r="3.2"/><circle cx="417.9" cy="429.9" r="3.2"/><circle cx="419.8" cy="415.4" r="3.2"/><circle cx="421.8" cy="425.9" r="3.2"/><circle cx="423.1" cy="387.2" r="3.2"/><circle cx="424.4" cy="439.1" r="3.2"/><circle cx="426.4" cy="442.3" r="3.2"/><circle cx="427.7" cy="424.6" r="3.2"/><circle cx="429.7" cy="415.4" r="3.2"/><circle cx="431.7" cy="424.6" r="3.2"/><circle cx="434.3" cy="424.6" r="3.2"/><circle cx="437.6" cy="413.5" r="3.2"/><circle cx="439.5" cy="432.5" r="3.2"/><circle cx="440.8" cy="420.7" r="3.2"/><circle cx="442.2" cy="437.7" r="3.2"/><circle cx="444.1" cy="422.7" r="3.2"/><circle cx="446.1" cy="439.1" r="3.2"/><circle cx="448.7" cy="420.0" r="3.2"/><circle cx="450.0" cy="443.0" r="3.2"/><circle cx="452.0" cy="440.4" r="3.2"/><circle cx="455.3" cy="435.1" r="3.2"/><circle cx="457.9" cy="439.1" r="3.2"/><circle cx="459.2" cy="450.9" r="3.2"/><circle cx="460.5" cy="443.0" r="3.2"/><circle cx="463.1" cy="432.5" r="3.2"/><circle cx="465.8" cy="436.4" r="3.2"/><circle cx="467.7" cy="424.0" r="3.2"/><circle cx="470.4" cy="437.7" r="3.2"/><circle cx="472.3" cy="397.7" r="3.2"/><circle cx="474.9" cy="429.2" r="3.2"/><circle cx="477.6" cy="367.6" r="3.2"/><circle cx="478.2" cy="378.7" r="3.2"/><circle cx="482.2" cy="349.8" r="3.2"/><circle cx="484.1" cy="378.1" r="3.2"/><circle cx="486.1" cy="357.7" r="3.2"/><circle cx="488.1" cy="356.4" r="3.2"/><circle cx="488.7" cy="382.6" r="3.2"/><circle cx="490.7" cy="384.0" r="3.2"/><circle cx="492.7" cy="395.8" r="3.2"/><circle cx="494.0" cy="373.9" r="3.2"/><circle cx="494.6" cy="374.1" r="3.2"/><circle cx="495.3" cy="401.0" r="3.2"/><circle cx="495.5" cy="400.8" r="3.2"/><circle cx="496.3" cy="430.9" r="3.2"/><circle cx="497.9" cy="431.2" r="3.2"/><circle cx="498.7" cy="440.3" r="3.2"/><circle cx="500.3" cy="445.9" r="3.2"/><circle cx="501.1" cy="426.1" r="3.2"/><circle cx="504.2" cy="413.5" r="3.2"/><circle cx="505.8" cy="375.5" r="3.2"/><circle cx="506.6" cy="408.7" r="3.2"/><circle cx="508.2" cy="419.8" r="3.2"/><circle cx="510.6" cy="417.4" r="3.2"/><circle cx="512.1" cy="454.6" r="3.2"/><circle cx="513.7" cy="457.7" r="3.2"/><circle cx="514.5" cy="468.0" r="3.2"/><circle cx="516.1" cy="474.3" r="3.2"/><circle cx="516.9" cy="435.6" r="3.2"/><circle cx="518.5" cy="472.0" r="3.2"/><circle cx="519.3" cy="422.9" r="3.2"/><circle cx="519.3" cy="406.3" r="3.2"/><circle cx="520.8" cy="385.0" r="3.2"/><circle cx="523.2" cy="391.3" r="3.2"/><circle cx="526.4" cy="421.4" r="3.2"/><circle cx="529.5" cy="393.7" r="3.2"/><circle cx="532.7" cy="408.7" r="3.2"/><circle cx="535.9" cy="422.9" r="3.2"/><circle cx="539.0" cy="428.5" r="3.2"/><circle cx="542.2" cy="457.7" r="3.2"/><circle cx="544.6" cy="422.2" r="3.2"/><circle cx="546.1" cy="446.7" r="3.2"/><circle cx="546.9" cy="402.4" r="3.2"/><circle cx="550.1" cy="392.9" r="3.2"/><circle cx="552.5" cy="430.9" r="3.2"/><circle cx="554.8" cy="415.0" r="3.2"/><circle cx="557.2" cy="428.5" r="3.2"/><circle cx="559.6" cy="432.4" r="3.2"/><circle cx="562.0" cy="435.6" r="3.2"/><circle cx="563.5" cy="449.0" r="3.2"/><circle cx="567.5" cy="444.3" r="3.2"/><circle cx="569.1" cy="463.3" r="3.2"/><circle cx="571.4" cy="465.6" r="3.2"/><circle cx="575.4" cy="456.9" r="3.2"/><circle cx="580.9" cy="475.9" r="3.2"/><circle cx="582.5" cy="457.7" r="3.2"/><circle cx="585.7" cy="454.6" r="3.2"/><circle cx="587.3" cy="472.0" r="3.2"/><circle cx="588.8" cy="435.6" r="3.2"/><circle cx="590.4" cy="472.0" r="3.2"/><circle cx="592.8" cy="440.3" r="3.2"/><circle cx="594.4" cy="453.0" r="3.2"/><circle cx="596.8" cy="443.5" r="3.2"/><circle cx="599.1" cy="445.9" r="3.2"/><circle cx="600.7" cy="441.9" r="3.2"/><circle cx="602.3" cy="457.7" r="3.2"/><circle cx="603.9" cy="428.5" r="3.2"/><circle cx="606.2" cy="393.7" r="3.2"/><circle cx="607.8" cy="360.5" r="3.2"/><circle cx="611.0" cy="360.5" r="3.2"/><circle cx="613.4" cy="411.1" r="3.2"/><circle cx="615.7" cy="424.5" r="3.2"/><circle cx="617.3" cy="435.6" r="3.2"/><circle cx="619.4" cy="409.2" r="3.2"/><circle cx="621.0" cy="404.4" r="3.2"/><circle cx="621.8" cy="365.6" r="3.2"/><circle cx="623.4" cy="354.3" r="3.2"/><circle cx="624.2" cy="368.8" r="3.2"/><circle cx="625.8" cy="364.0" r="3.2"/><circle cx="627.4" cy="354.3" r="3.2"/><circle cx="628.3" cy="368.8" r="3.2"/><circle cx="629.1" cy="308.3" r="3.2"/><circle cx="629.9" cy="404.4" r="3.2"/><circle cx="631.5" cy="428.6" r="3.2"/><circle cx="633.1" cy="365.6" r="3.2"/><circle cx="633.9" cy="393.9" r="3.2"/><circle cx="634.7" cy="431.8" r="3.2"/><circle cx="636.3" cy="422.1" r="3.2"/><circle cx="637.9" cy="435.0" r="3.2"/><circle cx="639.6" cy="426.2" r="3.2"/><circle cx="640.4" cy="443.9" r="3.2"/><circle cx="642.0" cy="441.5" r="3.2"/><circle cx="642.8" cy="430.2" r="3.2"/><circle cx="644.4" cy="432.6" r="3.2"/><circle cx="645.2" cy="406.8" r="3.2"/><circle cx="646.0" cy="415.7" r="3.2"/><circle cx="649.2" cy="373.7" r="3.2"/><circle cx="652.5" cy="365.6" r="3.2"/><circle cx="654.9" cy="284.1" r="3.2"/><circle cx="657.3" cy="284.1" r="3.2"/><circle cx="667.0" cy="284.1" r="3.2"/><circle cx="670.2" cy="231.6" r="3.2"/><circle cx="673.5" cy="271.2" r="3.2"/><circle cx="677.5" cy="297.8" r="3.2"/><circle cx="680.7" cy="332.5" r="3.2"/><circle cx="684.0" cy="299.4" r="3.2"/><circle cx="687.2" cy="363.2" r="3.2"/><circle cx="690.4" cy="355.9" r="3.2"/><circle cx="694.4" cy="361.6" r="3.2"/><circle cx="697.7" cy="351.9" r="3.2"/><circle cx="700.9" cy="233.2" r="3.2"/><circle cx="704.1" cy="225.2" r="3.2"/><circle cx="708.2" cy="194.5" r="3.2"/><circle cx="711.4" cy="104.9" r="3.2"/><circle cx="714.6" cy="199.3" r="3.2"/><circle cx="718.7" cy="238.1" r="3.2"/><circle cx="721.9" cy="203.4" r="3.2"/><circle cx="725.1" cy="154.9" r="3.2"/><circle cx="728.4" cy="179.2" r="3.2"/><circle cx="732.4" cy="218.7" r="3.2"/><circle cx="735.6" cy="259.9" r="3.2"/><circle cx="738.8" cy="258.3" r="3.2"/><circle cx="741.3" cy="354.3" r="3.2"/><circle cx="745.3" cy="372.1" r="3.2"/><circle cx="745.7" cy="372.1" r="3.2"/><circle cx="748.5" cy="373.7" r="3.2"/><circle cx="748.9" cy="373.7" r="3.2"/><circle cx="752.1" cy="360.8" r="3.2"/><circle cx="752.6" cy="360.8" r="3.2"/><circle cx="759.0" cy="365.6" r="3.2"/><circle cx="759.4" cy="365.7" r="3.2"/><circle cx="762.6" cy="354.4" r="3.2"/><circle cx="764.2" cy="376.2" r="3.2"/><circle cx="765.8" cy="384.2" r="3.2"/><circle cx="769.1" cy="382.6" r="3.2"/><circle cx="772.0" cy="395.5" r="3.2"/><circle cx="773.9" cy="354.4" r="3.2"/><circle cx="775.2" cy="330.1" r="3.2"/><circle cx="777.5" cy="280.1" r="3.2"/><circle cx="779.6" cy="327.7" r="3.2"/><circle cx="781.2" cy="295.4" r="3.2"/><circle cx="783.3" cy="275.3" r="3.2"/><circle cx="785.2" cy="240.5" r="3.2"/></g></g>
<g clip-path="url(#ct)"><path d="M840.1,259.9L842.5,247.0L844.6,330.1L847.4,238.1L849.5,356.8L851.4,330.1L853.8,378.6L857.0,377.8L858.7,360.8L861.1,400.4L863.5,409.3L865.8,453.1L868.2,426.2L870.6,483.1L873.7,481.5L875.3,454.6L878.5,457.0L880.1,435.7L882.4,415.9L886.4,409.6L890.3,406.4L891.9,454.6L894.3,472.0L896.7,461.0L899.0,464.9L901.4,470.5L903.8,448.3L906.1,476.8L907.7,442.0L910.9,439.6L913.3,428.6L915.6,446.0L918.8,433.3L920.4,393.8L922.7,415.9L925.1,483.1" fill="none" stroke="#ff0000" stroke-width="1.7" stroke-linejoin="round"/>
<g fill="#ff0000"><circle cx="840.1" cy="259.9" r="3.2"/><circle cx="842.5" cy="247.0" r="3.2"/><circle cx="844.6" cy="330.1" r="3.2"/><circle cx="847.4" cy="238.1" r="3.2"/><circle cx="849.5" cy="356.8" r="3.2"/><circle cx="851.4" cy="330.1" r="3.2"/><circle cx="853.8" cy="378.6" r="3.2"/><circle cx="857.0" cy="377.8" r="3.2"/><circle cx="858.7" cy="360.8" r="3.2"/><circle cx="861.1" cy="400.4" r="3.2"/><circle cx="863.5" cy="409.3" r="3.2"/><circle cx="865.8" cy="453.1" r="3.2"/><circle cx="868.2" cy="426.2" r="3.2"/><circle cx="870.6" cy="483.1" r="3.2"/><circle cx="873.7" cy="481.5" r="3.2"/><circle cx="875.3" cy="454.6" r="3.2"/><circle cx="878.5" cy="457.0" r="3.2"/><circle cx="880.1" cy="435.7" r="3.2"/><circle cx="882.4" cy="415.9" r="3.2"/><circle cx="886.4" cy="409.6" r="3.2"/><circle cx="890.3" cy="406.4" r="3.2"/><circle cx="891.9" cy="454.6" r="3.2"/><circle cx="894.3" cy="472.0" r="3.2"/><circle cx="896.7" cy="461.0" r="3.2"/><circle cx="899.0" cy="464.9" r="3.2"/><circle cx="901.4" cy="470.5" r="3.2"/><circle cx="903.8" cy="448.3" r="3.2"/><circle cx="906.1" cy="476.8" r="3.2"/><circle cx="907.7" cy="442.0" r="3.2"/><circle cx="910.9" cy="439.6" r="3.2"/><circle cx="913.3" cy="428.6" r="3.2"/><circle cx="915.6" cy="446.0" r="3.2"/><circle cx="918.8" cy="433.3" r="3.2"/><circle cx="920.4" cy="393.8" r="3.2"/><circle cx="922.7" cy="415.9" r="3.2"/><circle cx="925.1" cy="483.1" r="3.2"/></g></g>
<g clip-path="url(#cb)"><path d="M166.3,1396.6L167.9,1390.5L168.9,1383.0L170.4,1391.3L172.7,1392.1L177.7,1395.4L183.6,1338.3L189.0,1388.3L194.6,1396.3L200.7,1395.4L206.0,1396.6L210.8,1400.8L216.6,1403.0L222.3,1388.7L227.9,1394.3L233.2,1402.3L239.3,1376.2L243.5,1398.4L249.1,1394.3L253.7,1398.1L257.5,1401.9L261.7,1380.7L265.0,1388.3L269.1,1372.4L272.6,1388.3L276.8,1378.4L279.9,1386.8L283.5,1384.5L290.5,1397.8L293.8,1380.7L297.3,1395.8L299.8,1379.9L303.3,1367.1L305.1,1383.0L308.9,1379.9L313.5,1376.9L316.5,1388.3L319.1,1382.2L322.1,1393.3L325.1,1380.7L327.1,1386.8L330.1,1383.0L332.1,1371.6L334.6,1365.1L337.2,1363.6L339.6,1370.9L342.2,1378.4L344.5,1394.3L347.2,1388.3L349.3,1395.1L354.3,1401.1L358.4,1376.9L362.3,1401.9L366.9,1400.4L371.0,1404.2L375.5,1399.6L379.6,1403.9L384.6,1401.4L388.7,1384.2L393.2,1409.5L397.5,1407.9L402.0,1404.5L406.2,1410.2L411.1,1405.7L414.9,1414.8L419.4,1402.7L424.7,1404.5L430.8,1426.9L433.3,1408.7L437.6,1411.7L441.4,1410.2L445.9,1408.7L450.9,1404.9L455.7,1412.5L460.0,1398.1L464.8,1403.4L469.0,1412.9L473.9,1407.9L479.9,1408.7L486.3,1414.8L493.6,1414.0L500.4,1409.5L507.2,1404.2L514.5,1404.2L521.6,1393.6L525.4,1395.8L529.9,1393.3L532.9,1382.7L535.9,1388.3L539.7,1389.8L543.5,1382.2L546.5,1385.2L551.1,1391.3L554.1,1392.1L557.4,1378.7L560.5,1391.3L564.4,1388.3L568.0,1389.0L570.8,1382.2L574.5,1379.2L578.3,1374.6L581.4,1378.1L587.9,1373.6L591.9,1377.2L595.4,1382.2L598.0,1393.6L601.8,1391.8L605.1,1391.3L608.1,1387.5L611.2,1392.8L615.4,1397.8L618.7,1400.8L621.8,1404.5L625.2,1392.8L628.3,1399.9L632.1,1394.3L635.8,1399.6L638.9,1427.6L643.0,1402.3L645.7,1396.6L649.5,1396.6L652.5,1397.4L655.5,1398.4L657.8,1392.1L660.8,1388.3L663.8,1398.1L666.9,1395.8L670.7,1387.5L675.9,1395.8L678.7,1390.2L681.2,1399.3L684.3,1405.7L687.8,1405.4L690.8,1391.8L701.7,1382.2L714.5,1379.2L726.8,1385.3" fill="none" stroke="#000" stroke-width="1.7" stroke-linejoin="round"/>
<g fill="#000"><circle cx="166.3" cy="1396.6" r="3.2"/><circle cx="167.9" cy="1390.5" r="3.2"/><circle cx="168.9" cy="1383.0" r="3.2"/><circle cx="170.4" cy="1391.3" r="3.2"/><circle cx="172.7" cy="1392.1" r="3.2"/><circle cx="177.7" cy="1395.4" r="3.2"/><circle cx="183.6" cy="1338.3" r="3.2"/><circle cx="189.0" cy="1388.3" r="3.2"/><circle cx="194.6" cy="1396.3" r="3.2"/><circle cx="200.7" cy="1395.4" r="3.2"/><circle cx="206.0" cy="1396.6" r="3.2"/><circle cx="210.8" cy="1400.8" r="3.2"/><circle cx="216.6" cy="1403.0" r="3.2"/><circle cx="222.3" cy="1388.7" r="3.2"/><circle cx="227.9" cy="1394.3" r="3.2"/><circle cx="233.2" cy="1402.3" r="3.2"/><circle cx="239.3" cy="1376.2" r="3.2"/><circle cx="243.5" cy="1398.4" r="3.2"/><circle cx="249.1" cy="1394.3" r="3.2"/><circle cx="253.7" cy="1398.1" r="3.2"/><circle cx="257.5" cy="1401.9" r="3.2"/><circle cx="261.7" cy="1380.7" r="3.2"/><circle cx="265.0" cy="1388.3" r="3.2"/><circle cx="269.1" cy="1372.4" r="3.2"/><circle cx="272.6" cy="1388.3" r="3.2"/><circle cx="276.8" cy="1378.4" r="3.2"/><circle cx="279.9" cy="1386.8" r="3.2"/><circle cx="283.5" cy="1384.5" r="3.2"/><circle cx="290.5" cy="1397.8" r="3.2"/><circle cx="293.8" cy="1380.7" r="3.2"/><circle cx="297.3" cy="1395.8" r="3.2"/><circle cx="299.8" cy="1379.9" r="3.2"/><circle cx="303.3" cy="1367.1" r="3.2"/><circle cx="305.1" cy="1383.0" r="3.2"/><circle cx="308.9" cy="1379.9" r="3.2"/><circle cx="313.5" cy="1376.9" r="3.2"/><circle cx="316.5" cy="1388.3" r="3.2"/><circle cx="319.1" cy="1382.2" r="3.2"/><circle cx="322.1" cy="1393.3" r="3.2"/><circle cx="325.1" cy="1380.7" r="3.2"/><circle cx="327.1" cy="1386.8" r="3.2"/><circle cx="330.1" cy="1383.0" r="3.2"/><circle cx="332.1" cy="1371.6" r="3.2"/><circle cx="334.6" cy="1365.1" r="3.2"/><circle cx="337.2" cy="1363.6" r="3.2"/><circle cx="339.6" cy="1370.9" r="3.2"/><circle cx="342.2" cy="1378.4" r="3.2"/><circle cx="344.5" cy="1394.3" r="3.2"/><circle cx="347.2" cy="1388.3" r="3.2"/><circle cx="349.3" cy="1395.1" r="3.2"/><circle cx="354.3" cy="1401.1" r="3.2"/><circle cx="358.4" cy="1376.9" r="3.2"/><circle cx="362.3" cy="1401.9" r="3.2"/><circle cx="366.9" cy="1400.4" r="3.2"/><circle cx="371.0" cy="1404.2" r="3.2"/><circle cx="375.5" cy="1399.6" r="3.2"/><circle cx="379.6" cy="1403.9" r="3.2"/><circle cx="384.6" cy="1401.4" r="3.2"/><circle cx="388.7" cy="1384.2" r="3.2"/><circle cx="393.2" cy="1409.5" r="3.2"/><circle cx="397.5" cy="1407.9" r="3.2"/><circle cx="402.0" cy="1404.5" r="3.2"/><circle cx="406.2" cy="1410.2" r="3.2"/><circle cx="411.1" cy="1405.7" r="3.2"/><circle cx="414.9" cy="1414.8" r="3.2"/><circle cx="419.4" cy="1402.7" r="3.2"/><circle cx="424.7" cy="1404.5" r="3.2"/><circle cx="430.8" cy="1426.9" r="3.2"/><circle cx="433.3" cy="1408.7" r="3.2"/><circle cx="437.6" cy="1411.7" r="3.2"/><circle cx="441.4" cy="1410.2" r="3.2"/><circle cx="445.9" cy="1408.7" r="3.2"/><circle cx="450.9" cy="1404.9" r="3.2"/><circle cx="455.7" cy="1412.5" r="3.2"/><circle cx="460.0" cy="1398.1" r="3.2"/><circle cx="464.8" cy="1403.4" r="3.2"/><circle cx="469.0" cy="1412.9" r="3.2"/><circle cx="473.9" cy="1407.9" r="3.2"/><circle cx="479.9" cy="1408.7" r="3.2"/><circle cx="486.3" cy="1414.8" r="3.2"/><circle cx="493.6" cy="1414.0" r="3.2"/><circle cx="500.4" cy="1409.5" r="3.2"/><circle cx="507.2" cy="1404.2" r="3.2"/><circle cx="514.5" cy="1404.2" r="3.2"/><circle cx="521.6" cy="1393.6" r="3.2"/><circle cx="525.4" cy="1395.8" r="3.2"/><circle cx="529.9" cy="1393.3" r="3.2"/><circle cx="532.9" cy="1382.7" r="3.2"/><circle cx="535.9" cy="1388.3" r="3.2"/><circle cx="539.7" cy="1389.8" r="3.2"/><circle cx="543.5" cy="1382.2" r="3.2"/><circle cx="546.5" cy="1385.2" r="3.2"/><circle cx="551.1" cy="1391.3" r="3.2"/><circle cx="554.1" cy="1392.1" r="3.2"/><circle cx="557.4" cy="1378.7" r="3.2"/><circle cx="560.5" cy="1391.3" r="3.2"/><circle cx="564.4" cy="1388.3" r="3.2"/><circle cx="568.0" cy="1389.0" r="3.2"/><circle cx="570.8" cy="1382.2" r="3.2"/><circle cx="574.5" cy="1379.2" r="3.2"/><circle cx="578.3" cy="1374.6" r="3.2"/><circle cx="581.4" cy="1378.1" r="3.2"/><circle cx="587.9" cy="1373.6" r="3.2"/><circle cx="591.9" cy="1377.2" r="3.2"/><circle cx="595.4" cy="1382.2" r="3.2"/><circle cx="598.0" cy="1393.6" r="3.2"/><circle cx="601.8" cy="1391.8" r="3.2"/><circle cx="605.1" cy="1391.3" r="3.2"/><circle cx="608.1" cy="1387.5" r="3.2"/><circle cx="611.2" cy="1392.8" r="3.2"/><circle cx="615.4" cy="1397.8" r="3.2"/><circle cx="618.7" cy="1400.8" r="3.2"/><circle cx="621.8" cy="1404.5" r="3.2"/><circle cx="625.2" cy="1392.8" r="3.2"/><circle cx="628.3" cy="1399.9" r="3.2"/><circle cx="632.1" cy="1394.3" r="3.2"/><circle cx="635.8" cy="1399.6" r="3.2"/><circle cx="638.9" cy="1427.6" r="3.2"/><circle cx="643.0" cy="1402.3" r="3.2"/><circle cx="645.7" cy="1396.6" r="3.2"/><circle cx="649.5" cy="1396.6" r="3.2"/><circle cx="652.5" cy="1397.4" r="3.2"/><circle cx="655.5" cy="1398.4" r="3.2"/><circle cx="657.8" cy="1392.1" r="3.2"/><circle cx="660.8" cy="1388.3" r="3.2"/><circle cx="663.8" cy="1398.1" r="3.2"/><circle cx="666.9" cy="1395.8" r="3.2"/><circle cx="670.7" cy="1387.5" r="3.2"/><circle cx="675.9" cy="1395.8" r="3.2"/><circle cx="678.7" cy="1390.2" r="3.2"/><circle cx="681.2" cy="1399.3" r="3.2"/><circle cx="684.3" cy="1405.7" r="3.2"/><circle cx="687.8" cy="1405.4" r="3.2"/><circle cx="690.8" cy="1391.8" r="3.2"/><circle cx="701.7" cy="1382.2" r="3.2"/><circle cx="714.5" cy="1379.2" r="3.2"/><circle cx="726.8" cy="1385.3" r="3.2"/></g></g>
<g clip-path="url(#cb)"><path d="M856.1,1407.2L863.2,1400.9L869.6,1399.4L876.3,1398.0L883.4,1386.0L890.0,1392.1L896.4,1383.9L902.8,1407.6L910.2,1374.3L916.9,1387.4L923.0,1431.6L930.3,1417.5L946.5,1392.4L962.8,1414.3" fill="none" stroke="#000" stroke-width="1.7" stroke-linejoin="round"/>
<g fill="#000"><circle cx="856.1" cy="1407.2" r="3.2"/><circle cx="863.2" cy="1400.9" r="3.2"/><circle cx="869.6" cy="1399.4" r="3.2"/><circle cx="876.3" cy="1398.0" r="3.2"/><circle cx="883.4" cy="1386.0" r="3.2"/><circle cx="890.0" cy="1392.1" r="3.2"/><circle cx="896.4" cy="1383.9" r="3.2"/><circle cx="902.8" cy="1407.6" r="3.2"/><circle cx="910.2" cy="1374.3" r="3.2"/><circle cx="916.9" cy="1387.4" r="3.2"/><circle cx="923.0" cy="1431.6" r="3.2"/><circle cx="930.3" cy="1417.5" r="3.2"/><circle cx="946.5" cy="1392.4" r="3.2"/><circle cx="962.8" cy="1414.3" r="3.2"/></g></g>
<g clip-path="url(#cb)"><path d="M158.9,1237.1L162.1,1288.0L164.5,1259.7L167.0,1263.0L167.8,1269.4L169.1,1247.6L170.2,1257.3L171.8,1256.5L175.0,1266.2L176.2,1247.6L178.3,1254.9L179.9,1263.8L181.5,1272.7L183.9,1267.8L186.3,1261.3L188.7,1242.8L190.4,1271.0L192.0,1274.3L193.3,1246.0L195.5,1275.1L197.6,1266.2L198.1,1232.3L200.0,1286.4L201.7,1235.5L203.3,1267.0L204.9,1246.8L205.7,1291.2L206.8,1255.7L208.9,1302.5L209.7,1263.8L212.2,1267.8L213.0,1274.3L214.3,1245.2L216.2,1262.2L217.8,1272.7L220.2,1284.0L222.7,1284.4L223.5,1339.7L224.3,1309.8L225.9,1303.3L226.4,1290.5L227.5,1290.4L229.1,1280.7L229.5,1295.0L230.7,1271.0L231.7,1296.5L233.1,1274.3L233.2,1301.1L234.0,1293.6L234.8,1300.1L235.5,1298.1L236.4,1304.9L237.0,1292.0L238.0,1290.4L239.6,1292.0L240.1,1295.0L241.2,1300.1L241.6,1302.6L242.0,1317.9L243.1,1313.2L244.4,1313.0L244.6,1307.1L246.1,1300.1L247.7,1313.0L250.1,1311.4L253.3,1304.9L254.9,1331.6L256.6,1292.8L258.5,1316.2L260.6,1306.6L261.4,1296.1L263.0,1301.7L264.6,1295.3L267.0,1303.3L269.5,1304.9L270.3,1268.6L272.7,1300.1L273.4,1239.1L273.4,1253.3L273.5,1238.7L276.2,1238.4L276.4,1238.3L277.1,1252.7L277.9,1264.8L278.7,1276.9L279.4,1285.9L280.2,1295.0L280.5,1213.7L280.9,1302.6L281.7,1292.0L282.4,1318.7L282.4,1273.8L282.6,1256.1L283.2,1255.7L283.7,1329.2L283.9,1264.8L284.3,1338.8L284.7,1085.1L285.6,1038.2L286.1,1108.5L288.3,1173.5L288.9,1045.2L292.5,1239.1L293.2,1107.1L294.6,1121.2L296.0,1134.6L296.4,1129.0L298.1,1239.9L299.6,1200.3L301.0,1228.5L302.9,1007.8L303.8,1232.1L305.9,1188.3L306.6,1224.3L308.7,1187.6L310.1,1258.2L311.6,1229.3L313.0,1175.6L314.4,1209.5L315.8,1187.6L316.5,1213.7L317.2,1148.7L318.5,1045.2L319.2,976.9L320.4,909.5L321.1,1098.4L322.2,1138.1L323.6,1202.4L324.6,1321.2L325.7,1271.6L327.1,1275.2L327.8,1213.0L329.2,1241.3L329.9,1257.5L331.3,1220.8L332.0,1293.5L333.5,1288.6L334.0,1307.6L337.1,1347.0L337.8,1304.5L340.1,1296.2L341.6,1360.0L343.2,1337.9L345.4,1298.5L346.9,1352.4L348.5,1300.0L350.7,1342.5L351.5,1356.2L352.3,1400.2L353.8,1227.1L355.3,1272.6L356.1,1240.7L356.8,1259.0L358.3,1263.5L360.6,1255.9L362.1,1228.6L364.4,1240.0L366.7,1223.3L368.2,1234.7L370.5,1254.4L372.8,1238.5L374.3,1249.1L375.8,1260.5L379.6,1262.0L381.1,1277.2L384.2,1287.8L387.2,1271.1L388.7,1290.9L390.2,1277.2L394.0,1313.6L396.3,1284.8L398.6,1281.7L399.3,1321.2L401.6,1265.8L403.9,1274.2L406.2,1277.2L408.5,1268.1L410.8,1328.8L412.4,1267.1L414.7,1279.7L416.3,1283.7L417.9,1272.6L419.5,1265.5L421.1,1272.6L422.7,1237.8L424.2,1267.9L426.6,1263.9L429.0,1262.3L430.6,1253.6L433.7,1257.6L435.6,1248.9L437.2,1119.5L439.5,1116.8L440.1,1276.6L441.9,1003.4L443.2,1261.5L445.6,1267.1L448.8,1267.1L450.3,1273.4L451.9,1255.2L453.5,1262.3L455.1,1305.0L456.7,1249.7L458.3,1260.7L460.6,1261.5L462.2,1284.5L463.8,1278.9L467.0,1297.1L468.5,1267.1L470.9,1271.8L473.3,1260.7L474.9,1273.4L477.2,1257.6L478.8,1255.2L480.4,1272.6L482.0,1289.2L484.4,1286.1L487.5,1284.5L489.9,1282.1L492.3,1297.9L493.8,1286.1L495.4,1305.8L496.2,1287.6L497.8,1318.5L498.6,1313.7L500.2,1306.6L501.8,1290.8L503.3,1304.2L504.9,1300.3L507.3,1306.6L508.9,1276.6L509.7,1337.5L511.2,1286.1L512.8,1267.1L514.4,1281.3L516.8,1290.0L519.2,1310.6L522.3,1261.5L525.5,1279.7L528.7,1298.7L531.8,1289.2L534.2,1288.4L535.8,1305.8L538.1,1259.2L540.5,1283.7L542.1,1246.5L544.5,1248.9L546.2,1080.1L547.9,1167.3L550.2,1032.7L551.7,931.9L553.9,1006.1L555.3,1115.1L557.7,1131.9L559.4,1080.1L561.6,1053.6L563.4,1214.0L565.3,1246.4L567.7,1233.8L569.2,1226.7L575.6,1257.5L577.1,1233.0L578.7,1240.1L581.1,1237.7L583.5,1239.3L585.0,1243.3L586.6,1202.2L589.0,1201.4L591.4,1230.6L592.9,1244.0L594.5,1255.1L596.9,1258.3L599.3,1237.7L600.9,1215.6L603.2,1187.6L605.6,1210.9L608.0,1272.5L610.3,1280.4L612.7,1285.9L615.1,1289.1L616.7,1278.8L617.4,1267.7L619.8,1278.0L621.4,1268.5L622.2,1259.1L624.6,1267.7L625.3,1180.0L626.1,1276.4L626.9,1252.7L628.5,1236.1L630.1,1251.9L631.7,1258.3L632.5,1223.5L634.0,1254.3L635.6,1253.5L636.4,1267.7L638.0,1264.6L638.8,1274.1L639.9,1280.4L641.2,1249.6L643.1,1291.5L646.2,1227.4L649.1,1285.1L652.5,1234.6L655.4,1249.6L664.9,1274.1L668.3,1239.3L672.0,1267.7L675.1,1289.1L680.0,1314.2L682.4,1292.8L685.5,1324.4L688.7,1320.5L692.6,1322.1L695.8,1317.3L699.0,1244.6L703.4,1243.0L706.9,1190.1L710.8,1132.4L714.0,1232.0L717.9,1232.0L721.1,1258.8L725.0,1203.5L728.7,1194.5L732.2,1205.9L735.3,1251.7L739.3,1288.9L742.0,1320.4L745.2,1359.9L748.9,1330.0L753.0,1334.1L759.4,1330.9L763.0,1354.3L764.6,1326.8L767.2,1321.2L769.1,1323.6L770.7,1330.9L773.1,1331.3L774.3,1319.6L778.0,1306.6L780.4,1343.0L782.5,1326.0L784.4,1308.3L786.5,1313.9" fill="none" stroke="#ff0000" stroke-width="1.7" stroke-linejoin="round"/>
<g fill="#ff0000"><circle cx="158.9" cy="1237.1" r="3.2"/><circle cx="162.1" cy="1288.0" r="3.2"/><circle cx="164.5" cy="1259.7" r="3.2"/><circle cx="167.0" cy="1263.0" r="3.2"/><circle cx="167.8" cy="1269.4" r="3.2"/><circle cx="169.1" cy="1247.6" r="3.2"/><circle cx="170.2" cy="1257.3" r="3.2"/><circle cx="171.8" cy="1256.5" r="3.2"/><circle cx="175.0" cy="1266.2" r="3.2"/><circle cx="176.2" cy="1247.6" r="3.2"/><circle cx="178.3" cy="1254.9" r="3.2"/><circle cx="179.9" cy="1263.8" r="3.2"/><circle cx="181.5" cy="1272.7" r="3.2"/><circle cx="183.9" cy="1267.8" r="3.2"/><circle cx="186.3" cy="1261.3" r="3.2"/><circle cx="188.7" cy="1242.8" r="3.2"/><circle cx="190.4" cy="1271.0" r="3.2"/><circle cx="192.0" cy="1274.3" r="3.2"/><circle cx="193.3" cy="1246.0" r="3.2"/><circle cx="195.5" cy="1275.1" r="3.2"/><circle cx="197.6" cy="1266.2" r="3.2"/><circle cx="198.1" cy="1232.3" r="3.2"/><circle cx="200.0" cy="1286.4" r="3.2"/><circle cx="201.7" cy="1235.5" r="3.2"/><circle cx="203.3" cy="1267.0" r="3.2"/><circle cx="204.9" cy="1246.8" r="3.2"/><circle cx="205.7" cy="1291.2" r="3.2"/><circle cx="206.8" cy="1255.7" r="3.2"/><circle cx="208.9" cy="1302.5" r="3.2"/><circle cx="209.7" cy="1263.8" r="3.2"/><circle cx="212.2" cy="1267.8" r="3.2"/><circle cx="213.0" cy="1274.3" r="3.2"/><circle cx="214.3" cy="1245.2" r="3.2"/><circle cx="216.2" cy="1262.2" r="3.2"/><circle cx="217.8" cy="1272.7" r="3.2"/><circle cx="220.2" cy="1284.0" r="3.2"/><circle cx="222.7" cy="1284.4" r="3.2"/><circle cx="223.5" cy="1339.7" r="3.2"/><circle cx="224.3" cy="1309.8" r="3.2"/><circle cx="225.9" cy="1303.3" r="3.2"/><circle cx="226.4" cy="1290.5" r="3.2"/><circle cx="227.5" cy="1290.4" r="3.2"/><circle cx="229.1" cy="1280.7" r="3.2"/><circle cx="229.5" cy="1295.0" r="3.2"/><circle cx="230.7" cy="1271.0" r="3.2"/><circle cx="231.7" cy="1296.5" r="3.2"/><circle cx="233.1" cy="1274.3" r="3.2"/><circle cx="233.2" cy="1301.1" r="3.2"/><circle cx="234.0" cy="1293.6" r="3.2"/><circle cx="234.8" cy="1300.1" r="3.2"/><circle cx="235.5" cy="1298.1" r="3.2"/><circle cx="236.4" cy="1304.9" r="3.2"/><circle cx="237.0" cy="1292.0" r="3.2"/><circle cx="238.0" cy="1290.4" r="3.2"/><circle cx="239.6" cy="1292.0" r="3.2"/><circle cx="240.1" cy="1295.0" r="3.2"/><circle cx="241.2" cy="1300.1" r="3.2"/><circle cx="241.6" cy="1302.6" r="3.2"/><circle cx="242.0" cy="1317.9" r="3.2"/><circle cx="243.1" cy="1313.2" r="3.2"/><circle cx="244.4" cy="1313.0" r="3.2"/><circle cx="244.6" cy="1307.1" r="3.2"/><circle cx="246.1" cy="1300.1" r="3.2"/><circle cx="247.7" cy="1313.0" r="3.2"/><circle cx="250.1" cy="1311.4" r="3.2"/><circle cx="253.3" cy="1304.9" r="3.2"/><circle cx="254.9" cy="1331.6" r="3.2"/><circle cx="256.6" cy="1292.8" r="3.2"/><circle cx="258.5" cy="1316.2" r="3.2"/><circle cx="260.6" cy="1306.6" r="3.2"/><circle cx="261.4" cy="1296.1" r="3.2"/><circle cx="263.0" cy="1301.7" r="3.2"/><circle cx="264.6" cy="1295.3" r="3.2"/><circle cx="267.0" cy="1303.3" r="3.2"/><circle cx="269.5" cy="1304.9" r="3.2"/><circle cx="270.3" cy="1268.6" r="3.2"/><circle cx="272.7" cy="1300.1" r="3.2"/><circle cx="273.4" cy="1239.1" r="3.2"/><circle cx="273.4" cy="1253.3" r="3.2"/><circle cx="273.5" cy="1238.7" r="3.2"/><circle cx="276.2" cy="1238.4" r="3.2"/><circle cx="276.4" cy="1238.3" r="3.2"/><circle cx="277.1" cy="1252.7" r="3.2"/><circle cx="277.9" cy="1264.8" r="3.2"/><circle cx="278.7" cy="1276.9" r="3.2"/><circle cx="279.4" cy="1285.9" r="3.2"/><circle cx="280.2" cy="1295.0" r="3.2"/><circle cx="280.5" cy="1213.7" r="3.2"/><circle cx="280.9" cy="1302.6" r="3.2"/><circle cx="281.7" cy="1292.0" r="3.2"/><circle cx="282.4" cy="1318.7" r="3.2"/><circle cx="282.4" cy="1273.8" r="3.2"/><circle cx="282.6" cy="1256.1" r="3.2"/><circle cx="283.2" cy="1255.7" r="3.2"/><circle cx="283.7" cy="1329.2" r="3.2"/><circle cx="283.9" cy="1264.8" r="3.2"/><circle cx="284.3" cy="1338.8" r="3.2"/><circle cx="284.7" cy="1085.1" r="3.2"/><circle cx="285.6" cy="1038.2" r="3.2"/><circle cx="286.1" cy="1108.5" r="3.2"/><circle cx="288.3" cy="1173.5" r="3.2"/><circle cx="288.9" cy="1045.2" r="3.2"/><circle cx="292.5" cy="1239.1" r="3.2"/><circle cx="293.2" cy="1107.1" r="3.2"/><circle cx="294.6" cy="1121.2" r="3.2"/><circle cx="296.0" cy="1134.6" r="3.2"/><circle cx="296.4" cy="1129.0" r="3.2"/><circle cx="298.1" cy="1239.9" r="3.2"/><circle cx="299.6" cy="1200.3" r="3.2"/><circle cx="301.0" cy="1228.5" r="3.2"/><circle cx="302.9" cy="1007.8" r="3.2"/><circle cx="303.8" cy="1232.1" r="3.2"/><circle cx="305.9" cy="1188.3" r="3.2"/><circle cx="306.6" cy="1224.3" r="3.2"/><circle cx="308.7" cy="1187.6" r="3.2"/><circle cx="310.1" cy="1258.2" r="3.2"/><circle cx="311.6" cy="1229.3" r="3.2"/><circle cx="313.0" cy="1175.6" r="3.2"/><circle cx="314.4" cy="1209.5" r="3.2"/><circle cx="315.8" cy="1187.6" r="3.2"/><circle cx="316.5" cy="1213.7" r="3.2"/><circle cx="317.2" cy="1148.7" r="3.2"/><circle cx="318.5" cy="1045.2" r="3.2"/><circle cx="319.2" cy="976.9" r="3.2"/><circle cx="320.4" cy="909.5" r="3.2"/><circle cx="321.1" cy="1098.4" r="3.2"/><circle cx="322.2" cy="1138.1" r="3.2"/><circle cx="323.6" cy="1202.4" r="3.2"/><circle cx="324.6" cy="1321.2" r="3.2"/><circle cx="325.7" cy="1271.6" r="3.2"/><circle cx="327.1" cy="1275.2" r="3.2"/><circle cx="327.8" cy="1213.0" r="3.2"/><circle cx="329.2" cy="1241.3" r="3.2"/><circle cx="329.9" cy="1257.5" r="3.2"/><circle cx="331.3" cy="1220.8" r="3.2"/><circle cx="332.0" cy="1293.5" r="3.2"/><circle cx="333.5" cy="1288.6" r="3.2"/><circle cx="334.0" cy="1307.6" r="3.2"/><circle cx="337.1" cy="1347.0" r="3.2"/><circle cx="337.8" cy="1304.5" r="3.2"/><circle cx="340.1" cy="1296.2" r="3.2"/><circle cx="341.6" cy="1360.0" r="3.2"/><circle cx="343.2" cy="1337.9" r="3.2"/><circle cx="345.4" cy="1298.5" r="3.2"/><circle cx="346.9" cy="1352.4" r="3.2"/><circle cx="348.5" cy="1300.0" r="3.2"/><circle cx="350.7" cy="1342.5" r="3.2"/><circle cx="351.5" cy="1356.2" r="3.2"/><circle cx="352.3" cy="1400.2" r="3.2"/><circle cx="353.8" cy="1227.1" r="3.2"/><circle cx="355.3" cy="1272.6" r="3.2"/><circle cx="356.1" cy="1240.7" r="3.2"/><circle cx="356.8" cy="1259.0" r="3.2"/><circle cx="358.3" cy="1263.5" r="3.2"/><circle cx="360.6" cy="1255.9" r="3.2"/><circle cx="362.1" cy="1228.6" r="3.2"/><circle cx="364.4" cy="1240.0" r="3.2"/><circle cx="366.7" cy="1223.3" r="3.2"/><circle cx="368.2" cy="1234.7" r="3.2"/><circle cx="370.5" cy="1254.4" r="3.2"/><circle cx="372.8" cy="1238.5" r="3.2"/><circle cx="374.3" cy="1249.1" r="3.2"/><circle cx="375.8" cy="1260.5" r="3.2"/><circle cx="379.6" cy="1262.0" r="3.2"/><circle cx="381.1" cy="1277.2" r="3.2"/><circle cx="384.2" cy="1287.8" r="3.2"/><circle cx="387.2" cy="1271.1" r="3.2"/><circle cx="388.7" cy="1290.9" r="3.2"/><circle cx="390.2" cy="1277.2" r="3.2"/><circle cx="394.0" cy="1313.6" r="3.2"/><circle cx="396.3" cy="1284.8" r="3.2"/><circle cx="398.6" cy="1281.7" r="3.2"/><circle cx="399.3" cy="1321.2" r="3.2"/><circle cx="401.6" cy="1265.8" r="3.2"/><circle cx="403.9" cy="1274.2" r="3.2"/><circle cx="406.2" cy="1277.2" r="3.2"/><circle cx="408.5" cy="1268.1" r="3.2"/><circle cx="410.8" cy="1328.8" r="3.2"/><circle cx="412.4" cy="1267.1" r="3.2"/><circle cx="414.7" cy="1279.7" r="3.2"/><circle cx="416.3" cy="1283.7" r="3.2"/><circle cx="417.9" cy="1272.6" r="3.2"/><circle cx="419.5" cy="1265.5" r="3.2"/><circle cx="421.1" cy="1272.6" r="3.2"/><circle cx="422.7" cy="1237.8" r="3.2"/><circle cx="424.2" cy="1267.9" r="3.2"/><circle cx="426.6" cy="1263.9" r="3.2"/><circle cx="429.0" cy="1262.3" r="3.2"/><circle cx="430.6" cy="1253.6" r="3.2"/><circle cx="433.7" cy="1257.6" r="3.2"/><circle cx="435.6" cy="1248.9" r="3.2"/><circle cx="437.2" cy="1119.5" r="3.2"/><circle cx="439.5" cy="1116.8" r="3.2"/><circle cx="440.1" cy="1276.6" r="3.2"/><circle cx="441.9" cy="1003.4" r="3.2"/><circle cx="443.2" cy="1261.5" r="3.2"/><circle cx="445.6" cy="1267.1" r="3.2"/><circle cx="448.8" cy="1267.1" r="3.2"/><circle cx="450.3" cy="1273.4" r="3.2"/><circle cx="451.9" cy="1255.2" r="3.2"/><circle cx="453.5" cy="1262.3" r="3.2"/><circle cx="455.1" cy="1305.0" r="3.2"/><circle cx="456.7" cy="1249.7" r="3.2"/><circle cx="458.3" cy="1260.7" r="3.2"/><circle cx="460.6" cy="1261.5" r="3.2"/><circle cx="462.2" cy="1284.5" r="3.2"/><circle cx="463.8" cy="1278.9" r="3.2"/><circle cx="467.0" cy="1297.1" r="3.2"/><circle cx="468.5" cy="1267.1" r="3.2"/><circle cx="470.9" cy="1271.8" r="3.2"/><circle cx="473.3" cy="1260.7" r="3.2"/><circle cx="474.9" cy="1273.4" r="3.2"/><circle cx="477.2" cy="1257.6" r="3.2"/><circle cx="478.8" cy="1255.2" r="3.2"/><circle cx="480.4" cy="1272.6" r="3.2"/><circle cx="482.0" cy="1289.2" r="3.2"/><circle cx="484.4" cy="1286.1" r="3.2"/><circle cx="487.5" cy="1284.5" r="3.2"/><circle cx="489.9" cy="1282.1" r="3.2"/><circle cx="492.3" cy="1297.9" r="3.2"/><circle cx="493.8" cy="1286.1" r="3.2"/><circle cx="495.4" cy="1305.8" r="3.2"/><circle cx="496.2" cy="1287.6" r="3.2"/><circle cx="497.8" cy="1318.5" r="3.2"/><circle cx="498.6" cy="1313.7" r="3.2"/><circle cx="500.2" cy="1306.6" r="3.2"/><circle cx="501.8" cy="1290.8" r="3.2"/><circle cx="503.3" cy="1304.2" r="3.2"/><circle cx="504.9" cy="1300.3" r="3.2"/><circle cx="507.3" cy="1306.6" r="3.2"/><circle cx="508.9" cy="1276.6" r="3.2"/><circle cx="509.7" cy="1337.5" r="3.2"/><circle cx="511.2" cy="1286.1" r="3.2"/><circle cx="512.8" cy="1267.1" r="3.2"/><circle cx="514.4" cy="1281.3" r="3.2"/><circle cx="516.8" cy="1290.0" r="3.2"/><circle cx="519.2" cy="1310.6" r="3.2"/><circle cx="522.3" cy="1261.5" r="3.2"/><circle cx="525.5" cy="1279.7" r="3.2"/><circle cx="528.7" cy="1298.7" r="3.2"/><circle cx="531.8" cy="1289.2" r="3.2"/><circle cx="534.2" cy="1288.4" r="3.2"/><circle cx="535.8" cy="1305.8" r="3.2"/><circle cx="538.1" cy="1259.2" r="3.2"/><circle cx="540.5" cy="1283.7" r="3.2"/><circle cx="542.1" cy="1246.5" r="3.2"/><circle cx="544.5" cy="1248.9" r="3.2"/><circle cx="546.2" cy="1080.1" r="3.2"/><circle cx="547.9" cy="1167.3" r="3.2"/><circle cx="550.2" cy="1032.7" r="3.2"/><circle cx="551.7" cy="931.9" r="3.2"/><circle cx="553.9" cy="1006.1" r="3.2"/><circle cx="555.3" cy="1115.1" r="3.2"/><circle cx="557.7" cy="1131.9" r="3.2"/><circle cx="559.4" cy="1080.1" r="3.2"/><circle cx="561.6" cy="1053.6" r="3.2"/><circle cx="563.4" cy="1214.0" r="3.2"/><circle cx="565.3" cy="1246.4" r="3.2"/><circle cx="567.7" cy="1233.8" r="3.2"/><circle cx="569.2" cy="1226.7" r="3.2"/><circle cx="575.6" cy="1257.5" r="3.2"/><circle cx="577.1" cy="1233.0" r="3.2"/><circle cx="578.7" cy="1240.1" r="3.2"/><circle cx="581.1" cy="1237.7" r="3.2"/><circle cx="583.5" cy="1239.3" r="3.2"/><circle cx="585.0" cy="1243.3" r="3.2"/><circle cx="586.6" cy="1202.2" r="3.2"/><circle cx="589.0" cy="1201.4" r="3.2"/><circle cx="591.4" cy="1230.6" r="3.2"/><circle cx="592.9" cy="1244.0" r="3.2"/><circle cx="594.5" cy="1255.1" r="3.2"/><circle cx="596.9" cy="1258.3" r="3.2"/><circle cx="599.3" cy="1237.7" r="3.2"/><circle cx="600.9" cy="1215.6" r="3.2"/><circle cx="603.2" cy="1187.6" r="3.2"/><circle cx="605.6" cy="1210.9" r="3.2"/><circle cx="608.0" cy="1272.5" r="3.2"/><circle cx="610.3" cy="1280.4" r="3.2"/><circle cx="612.7" cy="1285.9" r="3.2"/><circle cx="615.1" cy="1289.1" r="3.2"/><circle cx="616.7" cy="1278.8" r="3.2"/><circle cx="617.4" cy="1267.7" r="3.2"/><circle cx="619.8" cy="1278.0" r="3.2"/><circle cx="621.4" cy="1268.5" r="3.2"/><circle cx="622.2" cy="1259.1" r="3.2"/><circle cx="624.6" cy="1267.7" r="3.2"/><circle cx="625.3" cy="1180.0" r="3.2"/><circle cx="626.1" cy="1276.4" r="3.2"/><circle cx="626.9" cy="1252.7" r="3.2"/><circle cx="628.5" cy="1236.1" r="3.2"/><circle cx="630.1" cy="1251.9" r="3.2"/><circle cx="631.7" cy="1258.3" r="3.2"/><circle cx="632.5" cy="1223.5" r="3.2"/><circle cx="634.0" cy="1254.3" r="3.2"/><circle cx="635.6" cy="1253.5" r="3.2"/><circle cx="636.4" cy="1267.7" r="3.2"/><circle cx="638.0" cy="1264.6" r="3.2"/><circle cx="638.8" cy="1274.1" r="3.2"/><circle cx="639.9" cy="1280.4" r="3.2"/><circle cx="641.2" cy="1249.6" r="3.2"/><circle cx="643.1" cy="1291.5" r="3.2"/><circle cx="646.2" cy="1227.4" r="3.2"/><circle cx="649.1" cy="1285.1" r="3.2"/><circle cx="652.5" cy="1234.6" r="3.2"/><circle cx="655.4" cy="1249.6" r="3.2"/><circle cx="664.9" cy="1274.1" r="3.2"/><circle cx="668.3" cy="1239.3" r="3.2"/><circle cx="672.0" cy="1267.7" r="3.2"/><circle cx="675.1" cy="1289.1" r="3.2"/><circle cx="680.0" cy="1314.2" r="3.2"/><circle cx="682.4" cy="1292.8" r="3.2"/><circle cx="685.5" cy="1324.4" r="3.2"/><circle cx="688.7" cy="1320.5" r="3.2"/><circle cx="692.6" cy="1322.1" r="3.2"/><circle cx="695.8" cy="1317.3" r="3.2"/><circle cx="699.0" cy="1244.6" r="3.2"/><circle cx="703.4" cy="1243.0" r="3.2"/><circle cx="706.9" cy="1190.1" r="3.2"/><circle cx="710.8" cy="1132.4" r="3.2"/><circle cx="714.0" cy="1232.0" r="3.2"/><circle cx="717.9" cy="1232.0" r="3.2"/><circle cx="721.1" cy="1258.8" r="3.2"/><circle cx="725.0" cy="1203.5" r="3.2"/><circle cx="728.7" cy="1194.5" r="3.2"/><circle cx="732.2" cy="1205.9" r="3.2"/><circle cx="735.3" cy="1251.7" r="3.2"/><circle cx="739.3" cy="1288.9" r="3.2"/><circle cx="742.0" cy="1320.4" r="3.2"/><circle cx="745.2" cy="1359.9" r="3.2"/><circle cx="748.9" cy="1330.0" r="3.2"/><circle cx="753.0" cy="1334.1" r="3.2"/><circle cx="759.4" cy="1330.9" r="3.2"/><circle cx="763.0" cy="1354.3" r="3.2"/><circle cx="764.6" cy="1326.8" r="3.2"/><circle cx="767.2" cy="1321.2" r="3.2"/><circle cx="769.1" cy="1323.6" r="3.2"/><circle cx="770.7" cy="1330.9" r="3.2"/><circle cx="773.1" cy="1331.3" r="3.2"/><circle cx="774.3" cy="1319.6" r="3.2"/><circle cx="778.0" cy="1306.6" r="3.2"/><circle cx="780.4" cy="1343.0" r="3.2"/><circle cx="782.5" cy="1326.0" r="3.2"/><circle cx="784.4" cy="1308.3" r="3.2"/><circle cx="786.5" cy="1313.9" r="3.2"/></g></g>
<g clip-path="url(#cb)"><path d="M843.0,1334.3L845.0,1323.2L847.4,1317.7L849.8,1319.3L850.6,1322.4L852.9,1280.5L855.0,1318.5L857.2,1313.7L859.3,1314.5L860.1,1336.7L862.7,1200.3L865.6,1312.9L867.7,1317.7L869.9,1339.1L871.9,1329.6L874.3,1316.9L877.5,1322.4L879.8,1278.9L882.2,1347.0L885.1,1341.4L887.0,1332.7L889.3,1328.0L892.5,1324.8L894.1,1305.8L897.2,1310.6L898.8,1315.3L901.2,1320.1L903.6,1312.9L905.1,1317.7L906.7,1324.0L908.3,1311.4L911.5,1307.4L913.1,1318.5L916.2,1319.3L918.6,1324.8L921.0,1353.3L923.7,1312.9L925.7,1305.8L928.9,1306.6L930.9,1363.6" fill="none" stroke="#ff0000" stroke-width="1.7" stroke-linejoin="round"/>
<g fill="#ff0000"><circle cx="843.0" cy="1334.3" r="3.2"/><circle cx="845.0" cy="1323.2" r="3.2"/><circle cx="847.4" cy="1317.7" r="3.2"/><circle cx="849.8" cy="1319.3" r="3.2"/><circle cx="850.6" cy="1322.4" r="3.2"/><circle cx="852.9" cy="1280.5" r="3.2"/><circle cx="855.0" cy="1318.5" r="3.2"/><circle cx="857.2" cy="1313.7" r="3.2"/><circle cx="859.3" cy="1314.5" r="3.2"/><circle cx="860.1" cy="1336.7" r="3.2"/><circle cx="862.7" cy="1200.3" r="3.2"/><circle cx="865.6" cy="1312.9" r="3.2"/><circle cx="867.7" cy="1317.7" r="3.2"/><circle cx="869.9" cy="1339.1" r="3.2"/><circle cx="871.9" cy="1329.6" r="3.2"/><circle cx="874.3" cy="1316.9" r="3.2"/><circle cx="877.5" cy="1322.4" r="3.2"/><circle cx="879.8" cy="1278.9" r="3.2"/><circle cx="882.2" cy="1347.0" r="3.2"/><circle cx="885.1" cy="1341.4" r="3.2"/><circle cx="887.0" cy="1332.7" r="3.2"/><circle cx="889.3" cy="1328.0" r="3.2"/><circle cx="892.5" cy="1324.8" r="3.2"/><circle cx="894.1" cy="1305.8" r="3.2"/><circle cx="897.2" cy="1310.6" r="3.2"/><circle cx="898.8" cy="1315.3" r="3.2"/><circle cx="901.2" cy="1320.1" r="3.2"/><circle cx="903.6" cy="1312.9" r="3.2"/><circle cx="905.1" cy="1317.7" r="3.2"/><circle cx="906.7" cy="1324.0" r="3.2"/><circle cx="908.3" cy="1311.4" r="3.2"/><circle cx="911.5" cy="1307.4" r="3.2"/><circle cx="913.1" cy="1318.5" r="3.2"/><circle cx="916.2" cy="1319.3" r="3.2"/><circle cx="918.6" cy="1324.8" r="3.2"/><circle cx="921.0" cy="1353.3" r="3.2"/><circle cx="923.7" cy="1312.9" r="3.2"/><circle cx="925.7" cy="1305.8" r="3.2"/><circle cx="928.9" cy="1306.6" r="3.2"/><circle cx="930.9" cy="1363.6" r="3.2"/></g></g>
<rect x="269.7" y="63.5" width="10.300000000000011" height="548.1" fill="#ffff00" fill-opacity="0.42" stroke="#9a9a8a" stroke-width="1.1"/>
<rect x="295.9" y="63.5" width="17.400000000000034" height="548.1" fill="#ffff00" fill-opacity="0.42" stroke="#9a9a8a" stroke-width="1.1"/>
<rect x="361.5" y="63.5" width="17.899999999999977" height="548.1" fill="#ffff00" fill-opacity="0.42" stroke="#9a9a8a" stroke-width="1.1"/>
<rect x="480.4" y="63.5" width="13.200000000000045" height="548.1" fill="#ffff00" fill-opacity="0.42" stroke="#9a9a8a" stroke-width="1.1"/>
<rect x="548.5" y="63.5" width="11.799999999999955" height="548.1" fill="#ffff00" fill-opacity="0.42" stroke="#9a9a8a" stroke-width="1.1"/>
<rect x="654.7" y="63.5" width="26.5" height="548.1" fill="#ffff00" fill-opacity="0.42" stroke="#9a9a8a" stroke-width="1.1"/>
<rect x="715.7" y="63.5" width="26.799999999999955" height="548.1" fill="#ffff00" fill-opacity="0.42" stroke="#9a9a8a" stroke-width="1.1"/>
<rect x="247.9" y="894.2" width="10.599999999999994" height="566.0" fill="#ffff00" fill-opacity="0.42" stroke="#9a9a8a" stroke-width="1.1"/>
<rect x="274.6" y="894.2" width="17.899999999999977" height="566.0" fill="#ffff00" fill-opacity="0.42" stroke="#9a9a8a" stroke-width="1.1"/>
<rect x="342.5" y="894.2" width="18.100000000000023" height="566.0" fill="#ffff00" fill-opacity="0.42" stroke="#9a9a8a" stroke-width="1.1"/>
<rect x="465.6" y="894.2" width="13.899999999999977" height="566.0" fill="#ffff00" fill-opacity="0.42" stroke="#9a9a8a" stroke-width="1.1"/>
<rect x="536.3" y="894.2" width="12.100000000000023" height="566.0" fill="#ffff00" fill-opacity="0.42" stroke="#9a9a8a" stroke-width="1.1"/>
<rect x="645.4" y="894.2" width="28.5" height="566.0" fill="#ffff00" fill-opacity="0.42" stroke="#9a9a8a" stroke-width="1.1"/>
<rect x="708.4" y="894.2" width="28.300000000000068" height="566.0" fill="#ffff00" fill-opacity="0.42" stroke="#9a9a8a" stroke-width="1.1"/>
<text transform="translate(43.03,23.71) scale(0.9822,0.9750)" font-size="50" font-weight="bold" class="serif">a</text>
<text transform="translate(42.71,845.20) scale(0.9843,0.9943)" font-size="50" font-weight="bold" class="serif">b</text>
<text transform="translate(198.41,33.90) scale(1.0363,1.1478)" font-size="20.5" font-weight="bold">MIS1</text>
<text transform="translate(325.92,33.90) scale(1.0363,1.1478)" font-size="20.5" font-weight="bold">MIS2</text>
<text transform="translate(479.87,33.33) scale(1.0363,1.1478)" font-size="20.5" font-weight="bold">MIS3</text>
<text transform="translate(661.10,34.10) scale(1.0363,1.1478)" font-size="20.5" font-weight="bold">MIS4</text>
<text transform="translate(856.11,34.10) scale(1.0363,1.1478)" font-size="20.5" font-weight="bold">MIS5</text>
<text transform="translate(255.81,59.70) scale(1.0845,1.1259)" font-size="19.5" font-weight="bold">YD</text>
<text transform="translate(290.75,59.70) scale(1.0845,1.1259)" font-size="19.5" font-weight="bold">H1</text>
<text transform="translate(351.97,59.70) scale(1.0845,1.1259)" font-size="19.5" font-weight="bold">H2</text>
<text transform="translate(476.73,60.00) scale(1.0845,1.1259)" font-size="19.5" font-weight="bold">H4</text>
<text transform="translate(543.60,60.00) scale(1.0845,1.1259)" font-size="19.5" font-weight="bold">H5</text>
<text transform="translate(655.85,59.70) scale(1.0845,1.1259)" font-size="19.5" font-weight="bold">H6</text>
<text transform="translate(722.14,59.70) scale(1.0845,1.1259)" font-size="19.5" font-weight="bold">H7?</text>
<text transform="translate(176.67,857.10) scale(1.0552,1.1186)" font-size="21" font-weight="bold">MIS1</text>
<text transform="translate(307.32,857.10) scale(1.0552,1.1186)" font-size="21" font-weight="bold">MIS2</text>
<text transform="translate(466.72,857.10) scale(1.0552,1.1186)" font-size="21" font-weight="bold">MIS3</text>
<text transform="translate(654.61,856.90) scale(1.0552,1.1186)" font-size="21" font-weight="bold">MIS4</text>
<text transform="translate(856.17,856.90) scale(1.0552,1.1186)" font-size="21" font-weight="bold">MIS5</text>
<text transform="translate(236.26,885.50) scale(1.1218,1.0603)" font-size="19.5" font-weight="bold">YD</text>
<text transform="translate(271.42,885.50) scale(1.1218,1.0603)" font-size="19.5" font-weight="bold">H1</text>
<text transform="translate(334.75,885.50) scale(1.1218,1.0603)" font-size="19.5" font-weight="bold">H2</text>
<text transform="translate(464.04,885.50) scale(1.1218,1.0603)" font-size="19.5" font-weight="bold">H4</text>
<text transform="translate(532.97,885.50) scale(1.1218,1.0603)" font-size="19.5" font-weight="bold">H5</text>
<text transform="translate(649.07,885.60) scale(1.1218,1.0603)" font-size="19.5" font-weight="bold">H6</text>
<text transform="translate(718.00,885.60) scale(1.1218,1.0603)" font-size="19.5" font-weight="bold">H7?</text>
<text transform="translate(153.85,74.60) scale(1.0462,1.0927)" font-size="29.5" text-anchor="end">3.0</text>
<text transform="translate(153.85,622.70) scale(1.0462,1.0927)" font-size="29.5" text-anchor="end">0.5</text>
<text transform="translate(153.85,513.08) scale(1.0462,1.0927)" font-size="29.5" text-anchor="end">1.0</text>
<text transform="translate(153.85,403.19) scale(1.0462,1.0927)" font-size="29.5" text-anchor="end">1.5</text>
<text transform="translate(153.85,293.84) scale(1.0462,1.0927)" font-size="29.5" text-anchor="end">2.0</text>
<text transform="translate(153.85,184.22) scale(1.0462,1.0927)" font-size="29.5" text-anchor="end">2.5</text>
<text transform="translate(133.85,905.60) scale(1.0508,1.1073)" font-size="29.5" text-anchor="end">10</text>
<text transform="translate(133.85,1408.66) scale(1.0508,1.1073)" font-size="29.5" text-anchor="end">2</text>
<text transform="translate(133.85,1282.61) scale(1.0508,1.1073)" font-size="29.5" text-anchor="end">4</text>
<text transform="translate(133.85,1157.11) scale(1.0508,1.1073)" font-size="29.5" text-anchor="end">6</text>
<text transform="translate(133.85,1031.33) scale(1.0508,1.1073)" font-size="29.5" text-anchor="end">8</text>
<text transform="translate(645.75,663.00) scale(1.0900,1.0829)" font-size="29.5" text-anchor="middle">60</text>
<text transform="translate(177.30,663.00) scale(1.0900,1.0829)" font-size="29.5" text-anchor="middle">0</text>
<text transform="translate(333.52,663.00) scale(1.0900,1.0829)" font-size="29.5" text-anchor="middle">20</text>
<text transform="translate(489.74,663.00) scale(1.0900,1.0829)" font-size="29.5" text-anchor="middle">40</text>
<text transform="translate(802.18,663.00) scale(1.0900,1.0829)" font-size="29.5" text-anchor="middle">80</text>
<text transform="translate(958.40,663.00) scale(1.0900,1.0829)" font-size="29.5" text-anchor="middle">100</text>
<text transform="translate(642.30,1513.70) scale(1.1067,1.1317)" font-size="29.5" text-anchor="middle">60</text>
<text transform="translate(158.50,1513.70) scale(1.1067,1.1317)" font-size="29.5" text-anchor="middle">0</text>
<text transform="translate(319.94,1513.70) scale(1.1067,1.1317)" font-size="29.5" text-anchor="middle">20</text>
<text transform="translate(481.38,1513.70) scale(1.1067,1.1317)" font-size="29.5" text-anchor="middle">40</text>
<text transform="translate(804.26,1513.70) scale(1.1067,1.1317)" font-size="29.5" text-anchor="middle">80</text>
<text transform="translate(965.70,1513.70) scale(1.1067,1.1317)" font-size="29.5" text-anchor="middle">100</text>
<text transform="translate(500.06,720.43) scale(1.0280,1.0677)" font-size="33.5">age (kyr)</text>
<text transform="translate(492.00,1572.70) scale(1.0669,1.1000)" font-size="33.5">age (kyr)</text>
<text transform="translate(192.78,102.40) scale(1.0216,1.0071)" font-size="26">a.</text>
<text transform="translate(170.83,923.00) scale(1.1111,1.0368)" font-size="26">b.</text>
<text transform="translate(43.60,431.32) rotate(-90) scale(1.0154,1.0328)" font-size="34.5"><tspan font-size="23" dy="-17.5">232</tspan><tspan dy="17.5">Th MAR</tspan></text>
<text transform="translate(85.00,431.43) rotate(-90) scale(1.0165,1.0148)" font-size="34.5">(µg/cm<tspan font-size="23" dy="-17.5">2</tspan><tspan dy="17.5">/kyr)</tspan></text>
<text transform="translate(26.07,1278.11) rotate(-90) scale(1.0128,1.0571)" font-size="35">xs Ba MAR</text>
<text transform="translate(71.89,1278.97) rotate(-90) scale(1.0346,1.0593)" font-size="35">(mg/cm<tspan font-size="23" dy="-17.5">2</tspan><tspan dy="17.5">/kyr)</tspan></text>
<text transform="translate(234.47,359.21) rotate(-90) scale(1.0377,1.0667)" font-size="33.5">DUST</text>
<text transform="translate(196.03,1232.84) rotate(-90) scale(1.0280,1.0717)" font-size="31" font-weight="bold">export</text>
<text transform="translate(233.50,1232.74) rotate(-90) scale(1.0190,1.0000)" font-size="31" font-weight="bold">production</text>
<text transform="translate(724.08,143.71) scale(1.0130,1.0200)" font-size="21">Los Chocoyos</text>
<text transform="translate(731.04,1395.12) scale(1.0307,1.0400)" font-size="21.5">Los Chocoyos</text>
<text transform="translate(785.54,188.00) scale(1.0413,1.0966)" font-size="21" fill="#ff0000">Los</text>
<text transform="translate(785.69,213.40) scale(1.0069,1.0516)" font-size="21" fill="#ff0000">Cho-</text>
<text transform="translate(785.67,237.97) scale(1.0321,1.0516)" font-size="21" fill="#ff0000">coyos</text>
<text transform="translate(785.68,1252.78) scale(1.0594,1.0452)" font-size="21.5" fill="#ff0000">Los</text>
<text transform="translate(786.08,1279.40) scale(1.0225,1.0710)" font-size="21.5" fill="#ff0000">Cho-</text>
<text transform="translate(786.06,1304.93) scale(1.0422,1.0375)" font-size="21.5" fill="#ff0000">coyos</text>
</svg>
</body></html>
